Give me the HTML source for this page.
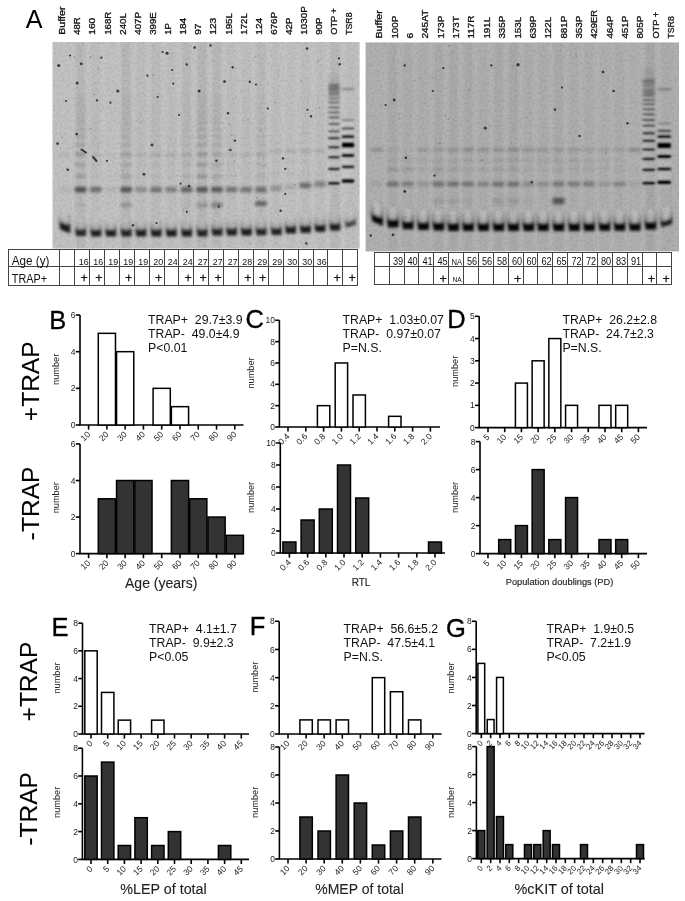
<!DOCTYPE html>
<html><head><meta charset="utf-8"><title>Figure</title>
<style>html,body{margin:0;padding:0;background:#fff;}body{width:685px;height:901px;overflow:hidden;}svg{display:block;filter:grayscale(100%);}</style>
</head><body>
<svg width="685" height="901" viewBox="0 0 685 901" font-family="'Liberation Sans',sans-serif">
<defs>
<filter id="bl1" x="-5%" y="-5%" width="110%" height="110%"><feGaussianBlur stdDeviation="1.35"/></filter>
<linearGradient id="gU" x1="0" y1="0" x2="0" y2="1"><stop offset="0" stop-color="#000" stop-opacity="0"/><stop offset="0.5" stop-color="#000" stop-opacity="0.2"/><stop offset="1" stop-color="#000" stop-opacity="0.6"/></linearGradient>
<filter id="bl0" x="-5%" y="-5%" width="110%" height="110%"><feGaussianBlur stdDeviation="0.85"/></filter>
<filter id="noise" x="0" y="0" width="100%" height="100%" color-interpolation-filters="sRGB"><feTurbulence type="fractalNoise" baseFrequency="0.4" numOctaves="2" seed="5" result="t"/><feColorMatrix in="t" type="matrix" values="0 0 0 0 0  0 0 0 0 0  0 0 0 0 0  1.2 0 0 0 -0.5" result="c"/><feGaussianBlur in="c" stdDeviation="0.6"/></filter>
<filter id="bls" x="0" y="0" width="100%" height="100%"><feGaussianBlur stdDeviation="0.45"/></filter>
<filter id="bl2" x="-5%" y="-5%" width="110%" height="110%"><feGaussianBlur stdDeviation="1.5"/></filter>
<clipPath id="clip52"><rect x="52.5" y="42" width="307.1" height="206.6"/></clipPath>
<clipPath id="clip365"><rect x="365.6" y="42.4" width="313.4" height="209"/></clipPath>
</defs>
<text x="25.70" y="27.70" font-size="25.2" fill="#000" text-anchor="start" >A</text>
<rect x="52.5" y="42" width="307.10" height="206.60" fill="#c2c2c2"/>
<g clip-path="url(#clip52)">
<g filter="url(#bl2)">
<rect x="75.10" y="42" width="11" height="206.60" fill="#000" opacity="0.050"/>
<rect x="90.30" y="42" width="11" height="206.60" fill="#000" opacity="0.020"/>
<rect x="120.60" y="42" width="11" height="206.60" fill="#000" opacity="0.050"/>
<rect x="135.40" y="42" width="11" height="206.60" fill="#000" opacity="0.020"/>
<rect x="150.60" y="42" width="11" height="206.60" fill="#000" opacity="0.030"/>
<rect x="165.70" y="42" width="11" height="206.60" fill="#000" opacity="0.020"/>
<rect x="181.10" y="42" width="11" height="206.60" fill="#000" opacity="0.040"/>
<rect x="196.60" y="42" width="11" height="206.60" fill="#000" opacity="0.060"/>
<rect x="211.50" y="42" width="11" height="206.60" fill="#000" opacity="0.050"/>
<rect x="226.00" y="42" width="11" height="206.60" fill="#000" opacity="0.020"/>
<rect x="240.70" y="42" width="11" height="206.60" fill="#000" opacity="0.020"/>
<rect x="255.50" y="42" width="11" height="206.60" fill="#000" opacity="0.040"/>
<rect x="270.70" y="42" width="11" height="206.60" fill="#000" opacity="0.020"/>
<rect x="285.00" y="42" width="11" height="206.60" fill="#000" opacity="0.010"/>
<rect x="299.80" y="42" width="11" height="206.60" fill="#000" opacity="0.020"/>
<rect x="314.50" y="42" width="11" height="206.60" fill="#000" opacity="0.020"/>
<rect x="329.30" y="42" width="11" height="206.60" fill="#000" opacity="0.050"/>
<rect x="344.90" y="42" width="11" height="206.60" fill="#000" opacity="0.020"/>
<rect x="71.70" y="42" width="2" height="206.60" fill="#fff" opacity="0.09"/>
<rect x="87.20" y="42" width="2" height="206.60" fill="#fff" opacity="0.09"/>
<rect x="102.25" y="42" width="2" height="206.60" fill="#fff" opacity="0.09"/>
<rect x="117.40" y="42" width="2" height="206.60" fill="#fff" opacity="0.09"/>
<rect x="132.50" y="42" width="2" height="206.60" fill="#fff" opacity="0.09"/>
<rect x="147.50" y="42" width="2" height="206.60" fill="#fff" opacity="0.09"/>
<rect x="162.65" y="42" width="2" height="206.60" fill="#fff" opacity="0.09"/>
<rect x="177.90" y="42" width="2" height="206.60" fill="#fff" opacity="0.09"/>
<rect x="193.35" y="42" width="2" height="206.60" fill="#fff" opacity="0.09"/>
<rect x="208.55" y="42" width="2" height="206.60" fill="#fff" opacity="0.09"/>
<rect x="223.25" y="42" width="2" height="206.60" fill="#fff" opacity="0.09"/>
<rect x="237.85" y="42" width="2" height="206.60" fill="#fff" opacity="0.09"/>
<rect x="252.60" y="42" width="2" height="206.60" fill="#fff" opacity="0.09"/>
<rect x="267.60" y="42" width="2" height="206.60" fill="#fff" opacity="0.09"/>
<rect x="282.35" y="42" width="2" height="206.60" fill="#fff" opacity="0.09"/>
<rect x="296.90" y="42" width="2" height="206.60" fill="#fff" opacity="0.09"/>
<rect x="311.65" y="42" width="2" height="206.60" fill="#fff" opacity="0.09"/>
<rect x="326.40" y="42" width="2" height="206.60" fill="#fff" opacity="0.09"/>
<rect x="341.60" y="42" width="2" height="206.60" fill="#fff" opacity="0.09"/>
</g>
<g filter="url(#bl1)">
<path d="M59.20,208.50 L70.40,212.50 L70.40,226.50 L59.20,222.50Z" fill="url(#gU)" opacity="0.360"/>
<rect x="59.20" y="208.50" width="2.4" height="14.00" fill="url(#gU)" opacity="0.480"/>
<rect x="68.00" y="212.50" width="2.4" height="14.00" fill="url(#gU)" opacity="0.480"/>
<path d="M62.00,210.80 L67.60,213.20 L67.60,224.70 L62.00,222.30Z" fill="#fff" opacity="0.14"/>
<path d="M59.20,221.50 L70.40,225.50 L70.40,233.50 L60.20,229.50Z" fill="#000" opacity="0.800"/>
<path d="M60.20,225.50 L69.40,229.50 L69.40,233.00 L60.70,229.00Z" fill="#000" opacity="0.480"/>
<path d="M75.00,216.20 L86.20,216.20 L86.20,230.20 L75.00,230.20Z" fill="url(#gU)" opacity="0.324"/>
<rect x="75.00" y="216.20" width="2.4" height="14.00" fill="url(#gU)" opacity="0.432"/>
<rect x="83.80" y="216.20" width="2.4" height="14.00" fill="url(#gU)" opacity="0.432"/>
<path d="M77.80,217.70 L83.40,217.70 L83.40,229.20 L77.80,229.20Z" fill="#fff" opacity="0.14"/>
<path d="M75.00,229.20 L86.20,229.20 L86.20,236.00 L76.00,236.00Z" fill="#000" opacity="0.720"/>
<path d="M76.00,232.60 L85.20,232.60 L85.20,235.50 L76.50,235.50Z" fill="#000" opacity="0.432"/>
<path d="M90.20,216.80 L101.40,216.80 L101.40,230.80 L90.20,230.80Z" fill="url(#gU)" opacity="0.351"/>
<rect x="90.20" y="216.80" width="2.4" height="14.00" fill="url(#gU)" opacity="0.468"/>
<rect x="99.00" y="216.80" width="2.4" height="14.00" fill="url(#gU)" opacity="0.468"/>
<path d="M93.00,218.30 L98.60,218.30 L98.60,229.80 L93.00,229.80Z" fill="#fff" opacity="0.14"/>
<path d="M90.20,229.80 L101.40,229.80 L101.40,236.60 L91.20,236.60Z" fill="#000" opacity="0.780"/>
<path d="M91.20,233.20 L100.40,233.20 L100.40,236.10 L91.70,236.10Z" fill="#000" opacity="0.468"/>
<path d="M105.10,216.80 L116.30,216.80 L116.30,230.80 L105.10,230.80Z" fill="url(#gU)" opacity="0.360"/>
<rect x="105.10" y="216.80" width="2.4" height="14.00" fill="url(#gU)" opacity="0.480"/>
<rect x="113.90" y="216.80" width="2.4" height="14.00" fill="url(#gU)" opacity="0.480"/>
<path d="M107.90,218.30 L113.50,218.30 L113.50,229.80 L107.90,229.80Z" fill="#fff" opacity="0.14"/>
<path d="M105.10,229.80 L116.30,229.80 L116.30,236.60 L106.10,236.60Z" fill="#000" opacity="0.800"/>
<path d="M106.10,233.20 L115.30,233.20 L115.30,236.10 L106.60,236.10Z" fill="#000" opacity="0.480"/>
<path d="M120.50,216.60 L131.70,216.60 L131.70,230.60 L120.50,230.60Z" fill="url(#gU)" opacity="0.333"/>
<rect x="120.50" y="216.60" width="2.4" height="14.00" fill="url(#gU)" opacity="0.444"/>
<rect x="129.30" y="216.60" width="2.4" height="14.00" fill="url(#gU)" opacity="0.444"/>
<path d="M123.30,218.10 L128.90,218.10 L128.90,229.60 L123.30,229.60Z" fill="#fff" opacity="0.14"/>
<path d="M120.50,229.60 L131.70,229.60 L131.70,236.40 L121.50,236.40Z" fill="#000" opacity="0.740"/>
<path d="M121.50,233.00 L130.70,233.00 L130.70,235.90 L122.00,235.90Z" fill="#000" opacity="0.444"/>
<path d="M135.30,216.60 L146.50,216.60 L146.50,230.60 L135.30,230.60Z" fill="url(#gU)" opacity="0.351"/>
<rect x="135.30" y="216.60" width="2.4" height="14.00" fill="url(#gU)" opacity="0.468"/>
<rect x="144.10" y="216.60" width="2.4" height="14.00" fill="url(#gU)" opacity="0.468"/>
<path d="M138.10,218.10 L143.70,218.10 L143.70,229.60 L138.10,229.60Z" fill="#fff" opacity="0.14"/>
<path d="M135.30,229.60 L146.50,229.60 L146.50,236.40 L136.30,236.40Z" fill="#000" opacity="0.780"/>
<path d="M136.30,233.00 L145.50,233.00 L145.50,235.90 L136.80,235.90Z" fill="#000" opacity="0.468"/>
<path d="M150.50,216.60 L161.70,216.60 L161.70,230.60 L150.50,230.60Z" fill="url(#gU)" opacity="0.351"/>
<rect x="150.50" y="216.60" width="2.4" height="14.00" fill="url(#gU)" opacity="0.468"/>
<rect x="159.30" y="216.60" width="2.4" height="14.00" fill="url(#gU)" opacity="0.468"/>
<path d="M153.30,218.10 L158.90,218.10 L158.90,229.60 L153.30,229.60Z" fill="#fff" opacity="0.14"/>
<path d="M150.50,229.60 L161.70,229.60 L161.70,236.40 L151.50,236.40Z" fill="#000" opacity="0.780"/>
<path d="M151.50,233.00 L160.70,233.00 L160.70,235.90 L152.00,235.90Z" fill="#000" opacity="0.468"/>
<path d="M165.60,216.60 L176.80,216.60 L176.80,230.60 L165.60,230.60Z" fill="url(#gU)" opacity="0.360"/>
<rect x="165.60" y="216.60" width="2.4" height="14.00" fill="url(#gU)" opacity="0.480"/>
<rect x="174.40" y="216.60" width="2.4" height="14.00" fill="url(#gU)" opacity="0.480"/>
<path d="M168.40,218.10 L174.00,218.10 L174.00,229.60 L168.40,229.60Z" fill="#fff" opacity="0.14"/>
<path d="M165.60,229.60 L176.80,229.60 L176.80,236.40 L166.60,236.40Z" fill="#000" opacity="0.800"/>
<path d="M166.60,233.00 L175.80,233.00 L175.80,235.90 L167.10,235.90Z" fill="#000" opacity="0.480"/>
<path d="M181.00,216.60 L192.20,216.60 L192.20,230.60 L181.00,230.60Z" fill="url(#gU)" opacity="0.351"/>
<rect x="181.00" y="216.60" width="2.4" height="14.00" fill="url(#gU)" opacity="0.468"/>
<rect x="189.80" y="216.60" width="2.4" height="14.00" fill="url(#gU)" opacity="0.468"/>
<path d="M183.80,218.10 L189.40,218.10 L189.40,229.60 L183.80,229.60Z" fill="#fff" opacity="0.14"/>
<path d="M181.00,229.60 L192.20,229.60 L192.20,236.40 L182.00,236.40Z" fill="#000" opacity="0.780"/>
<path d="M182.00,233.00 L191.20,233.00 L191.20,235.90 L182.50,235.90Z" fill="#000" opacity="0.468"/>
<path d="M196.50,216.60 L207.70,216.60 L207.70,230.60 L196.50,230.60Z" fill="url(#gU)" opacity="0.333"/>
<rect x="196.50" y="216.60" width="2.4" height="14.00" fill="url(#gU)" opacity="0.444"/>
<rect x="205.30" y="216.60" width="2.4" height="14.00" fill="url(#gU)" opacity="0.444"/>
<path d="M199.30,218.10 L204.90,218.10 L204.90,229.60 L199.30,229.60Z" fill="#fff" opacity="0.14"/>
<path d="M196.50,229.60 L207.70,229.60 L207.70,236.40 L197.50,236.40Z" fill="#000" opacity="0.740"/>
<path d="M197.50,233.00 L206.70,233.00 L206.70,235.90 L198.00,235.90Z" fill="#000" opacity="0.444"/>
<path d="M211.40,215.60 L222.60,215.60 L222.60,229.60 L211.40,229.60Z" fill="url(#gU)" opacity="0.333"/>
<rect x="211.40" y="215.60" width="2.4" height="14.00" fill="url(#gU)" opacity="0.444"/>
<rect x="220.20" y="215.60" width="2.4" height="14.00" fill="url(#gU)" opacity="0.444"/>
<path d="M214.20,217.10 L219.80,217.10 L219.80,228.60 L214.20,228.60Z" fill="#fff" opacity="0.14"/>
<path d="M211.40,228.60 L222.60,228.60 L222.60,235.40 L212.40,235.40Z" fill="#000" opacity="0.740"/>
<path d="M212.40,232.00 L221.60,232.00 L221.60,234.90 L212.90,234.90Z" fill="#000" opacity="0.444"/>
<path d="M225.90,215.60 L237.10,215.60 L237.10,229.60 L225.90,229.60Z" fill="url(#gU)" opacity="0.351"/>
<rect x="225.90" y="215.60" width="2.4" height="14.00" fill="url(#gU)" opacity="0.468"/>
<rect x="234.70" y="215.60" width="2.4" height="14.00" fill="url(#gU)" opacity="0.468"/>
<path d="M228.70,217.10 L234.30,217.10 L234.30,228.60 L228.70,228.60Z" fill="#fff" opacity="0.14"/>
<path d="M225.90,228.60 L237.10,228.60 L237.10,235.40 L226.90,235.40Z" fill="#000" opacity="0.780"/>
<path d="M226.90,232.00 L236.10,232.00 L236.10,234.90 L227.40,234.90Z" fill="#000" opacity="0.468"/>
<path d="M240.60,215.60 L251.80,215.60 L251.80,229.60 L240.60,229.60Z" fill="url(#gU)" opacity="0.360"/>
<rect x="240.60" y="215.60" width="2.4" height="14.00" fill="url(#gU)" opacity="0.480"/>
<rect x="249.40" y="215.60" width="2.4" height="14.00" fill="url(#gU)" opacity="0.480"/>
<path d="M243.40,217.10 L249.00,217.10 L249.00,228.60 L243.40,228.60Z" fill="#fff" opacity="0.14"/>
<path d="M240.60,228.60 L251.80,228.60 L251.80,235.40 L241.60,235.40Z" fill="#000" opacity="0.800"/>
<path d="M241.60,232.00 L250.80,232.00 L250.80,234.90 L242.10,234.90Z" fill="#000" opacity="0.480"/>
<path d="M255.40,215.40 L266.60,215.40 L266.60,229.40 L255.40,229.40Z" fill="url(#gU)" opacity="0.333"/>
<rect x="255.40" y="215.40" width="2.4" height="14.00" fill="url(#gU)" opacity="0.444"/>
<rect x="264.20" y="215.40" width="2.4" height="14.00" fill="url(#gU)" opacity="0.444"/>
<path d="M258.20,216.90 L263.80,216.90 L263.80,228.40 L258.20,228.40Z" fill="#fff" opacity="0.14"/>
<path d="M255.40,228.40 L266.60,228.40 L266.60,235.20 L256.40,235.20Z" fill="#000" opacity="0.740"/>
<path d="M256.40,231.80 L265.60,231.80 L265.60,234.70 L256.90,234.70Z" fill="#000" opacity="0.444"/>
<path d="M270.60,215.10 L281.80,215.10 L281.80,229.10 L270.60,229.10Z" fill="url(#gU)" opacity="0.338"/>
<rect x="270.60" y="215.10" width="2.4" height="14.00" fill="url(#gU)" opacity="0.450"/>
<rect x="279.40" y="215.10" width="2.4" height="14.00" fill="url(#gU)" opacity="0.450"/>
<path d="M273.40,216.60 L279.00,216.60 L279.00,228.10 L273.40,228.10Z" fill="#fff" opacity="0.14"/>
<path d="M270.60,228.10 L281.80,228.10 L281.80,234.90 L271.60,234.90Z" fill="#000" opacity="0.750"/>
<path d="M271.60,231.50 L280.80,231.50 L280.80,234.40 L272.10,234.40Z" fill="#000" opacity="0.450"/>
<path d="M284.90,213.60 L296.10,213.60 L296.10,227.60 L284.90,227.60Z" fill="url(#gU)" opacity="0.360"/>
<rect x="284.90" y="213.60" width="2.4" height="14.00" fill="url(#gU)" opacity="0.480"/>
<rect x="293.70" y="213.60" width="2.4" height="14.00" fill="url(#gU)" opacity="0.480"/>
<path d="M287.70,215.10 L293.30,215.10 L293.30,226.60 L287.70,226.60Z" fill="#fff" opacity="0.14"/>
<path d="M284.90,226.60 L296.10,226.60 L296.10,233.40 L285.90,233.40Z" fill="#000" opacity="0.800"/>
<path d="M285.90,230.00 L295.10,230.00 L295.10,232.90 L286.40,232.90Z" fill="#000" opacity="0.480"/>
<path d="M299.70,213.00 L310.90,213.00 L310.90,227.00 L299.70,227.00Z" fill="url(#gU)" opacity="0.369"/>
<rect x="299.70" y="213.00" width="2.4" height="14.00" fill="url(#gU)" opacity="0.492"/>
<rect x="308.50" y="213.00" width="2.4" height="14.00" fill="url(#gU)" opacity="0.492"/>
<path d="M302.50,214.50 L308.10,214.50 L308.10,226.00 L302.50,226.00Z" fill="#fff" opacity="0.14"/>
<path d="M299.70,226.00 L310.90,226.00 L310.90,232.80 L300.70,232.80Z" fill="#000" opacity="0.820"/>
<path d="M300.70,229.40 L309.90,229.40 L309.90,232.30 L301.20,232.30Z" fill="#000" opacity="0.492"/>
<path d="M314.40,211.90 L325.60,211.90 L325.60,225.90 L314.40,225.90Z" fill="url(#gU)" opacity="0.369"/>
<rect x="314.40" y="211.90" width="2.4" height="14.00" fill="url(#gU)" opacity="0.492"/>
<rect x="323.20" y="211.90" width="2.4" height="14.00" fill="url(#gU)" opacity="0.492"/>
<path d="M317.20,213.40 L322.80,213.40 L322.80,224.90 L317.20,224.90Z" fill="#fff" opacity="0.14"/>
<path d="M314.40,224.90 L325.60,224.90 L325.60,231.70 L315.40,231.70Z" fill="#000" opacity="0.820"/>
<path d="M315.40,228.30 L324.60,228.30 L324.60,231.20 L315.90,231.20Z" fill="#000" opacity="0.492"/>
<path d="M329.20,210.80 L340.40,210.80 L340.40,224.80 L329.20,224.80Z" fill="url(#gU)" opacity="0.360"/>
<rect x="329.20" y="210.80" width="2.4" height="14.00" fill="url(#gU)" opacity="0.480"/>
<rect x="338.00" y="210.80" width="2.4" height="14.00" fill="url(#gU)" opacity="0.480"/>
<path d="M332.00,212.30 L337.60,212.30 L337.60,223.80 L332.00,223.80Z" fill="#fff" opacity="0.14"/>
<path d="M329.20,223.80 L340.40,223.80 L340.40,230.60 L330.20,230.60Z" fill="#000" opacity="0.800"/>
<path d="M330.20,227.20 L339.40,227.20 L339.40,230.10 L330.70,230.10Z" fill="#000" opacity="0.480"/>
<path d="M344.80,209.45 L356.00,206.25 L356.00,220.25 L344.80,223.45Z" fill="url(#gU)" opacity="0.248"/>
<rect x="344.80" y="209.45" width="2.4" height="14.00" fill="url(#gU)" opacity="0.330"/>
<rect x="353.60" y="206.25" width="2.4" height="14.00" fill="url(#gU)" opacity="0.330"/>
<path d="M347.60,210.31 L353.20,208.39 L353.20,219.89 L347.60,221.81Z" fill="#fff" opacity="0.14"/>
<path d="M344.80,222.45 L356.00,219.25 L356.00,224.75 L345.80,227.95Z" fill="#000" opacity="0.550"/>
<path d="M345.80,225.20 L355.00,222.00 L355.00,224.25 L346.30,227.45Z" fill="#000" opacity="0.330"/>
<rect x="59.05" y="186.85" width="11.50" height="5.50" fill="#000" opacity="0.062"/>
<rect x="59.05" y="153.50" width="11.50" height="3.00" fill="#000" opacity="0.084"/>
<rect x="74.85" y="186.85" width="11.50" height="5.50" fill="#000" opacity="0.562"/>
<rect x="74.85" y="202.50" width="11.50" height="5.00" fill="#000" opacity="0.050"/>
<rect x="74.85" y="153.50" width="11.50" height="3.00" fill="#000" opacity="0.070"/>
<rect x="75.10" y="174.80" width="11.00" height="3.00" fill="#000" opacity="0.196"/>
<rect x="75.10" y="163.20" width="11.00" height="3.00" fill="#000" opacity="0.170"/>
<rect x="75.10" y="152.60" width="11.00" height="3.00" fill="#000" opacity="0.148"/>
<rect x="75.10" y="143.30" width="11.00" height="3.00" fill="#000" opacity="0.129"/>
<rect x="75.10" y="135.10" width="11.00" height="3.00" fill="#000" opacity="0.112"/>
<rect x="75.10" y="128.10" width="11.00" height="3.00" fill="#000" opacity="0.098"/>
<rect x="75.10" y="121.80" width="11.00" height="3.00" fill="#000" opacity="0.085"/>
<rect x="75.10" y="116.40" width="11.00" height="3.00" fill="#000" opacity="0.074"/>
<rect x="75.10" y="111.10" width="11.00" height="3.00" fill="#000" opacity="0.064"/>
<rect x="75.10" y="105.90" width="11.00" height="3.00" fill="#000" opacity="0.056"/>
<rect x="75.10" y="101.70" width="11.00" height="3.00" fill="#000" opacity="0.049"/>
<rect x="75.10" y="97.70" width="11.00" height="3.00" fill="#000" opacity="0.042"/>
<rect x="75.10" y="94.20" width="11.00" height="3.00" fill="#000" opacity="0.037"/>
<rect x="90.05" y="186.85" width="11.50" height="5.50" fill="#000" opacity="0.400"/>
<rect x="90.05" y="153.50" width="11.50" height="3.00" fill="#000" opacity="0.042"/>
<rect x="90.30" y="174.80" width="11.00" height="3.00" fill="#000" opacity="0.052"/>
<rect x="90.30" y="163.20" width="11.00" height="3.00" fill="#000" opacity="0.045"/>
<rect x="90.30" y="152.60" width="11.00" height="3.00" fill="#000" opacity="0.040"/>
<rect x="90.30" y="143.30" width="11.00" height="3.00" fill="#000" opacity="0.034"/>
<rect x="90.30" y="135.10" width="11.00" height="3.00" fill="#000" opacity="0.030"/>
<rect x="90.30" y="128.10" width="11.00" height="3.00" fill="#000" opacity="0.026"/>
<rect x="90.30" y="121.80" width="11.00" height="3.00" fill="#000" opacity="0.023"/>
<rect x="90.30" y="116.40" width="11.00" height="3.00" fill="#000" opacity="0.020"/>
<rect x="90.30" y="111.10" width="11.00" height="3.00" fill="#000" opacity="0.017"/>
<rect x="90.30" y="105.90" width="11.00" height="3.00" fill="#000" opacity="0.015"/>
<rect x="90.30" y="101.70" width="11.00" height="3.00" fill="#000" opacity="0.013"/>
<rect x="90.30" y="97.70" width="11.00" height="3.00" fill="#000" opacity="0.011"/>
<rect x="90.30" y="94.20" width="11.00" height="3.00" fill="#000" opacity="0.010"/>
<rect x="104.95" y="186.85" width="11.50" height="5.50" fill="#000" opacity="0.075"/>
<rect x="104.95" y="153.50" width="11.50" height="3.00" fill="#000" opacity="0.035"/>
<rect x="105.20" y="174.80" width="11.00" height="3.00" fill="#000" opacity="0.013"/>
<rect x="105.20" y="163.20" width="11.00" height="3.00" fill="#000" opacity="0.011"/>
<rect x="105.20" y="152.60" width="11.00" height="3.00" fill="#000" opacity="0.010"/>
<rect x="105.20" y="143.30" width="11.00" height="3.00" fill="#000" opacity="0.009"/>
<rect x="105.20" y="135.10" width="11.00" height="3.00" fill="#000" opacity="0.007"/>
<rect x="105.20" y="128.10" width="11.00" height="3.00" fill="#000" opacity="0.007"/>
<rect x="105.20" y="121.80" width="11.00" height="3.00" fill="#000" opacity="0.006"/>
<rect x="105.20" y="116.40" width="11.00" height="3.00" fill="#000" opacity="0.005"/>
<rect x="105.20" y="111.10" width="11.00" height="3.00" fill="#000" opacity="0.004"/>
<rect x="105.20" y="105.90" width="11.00" height="3.00" fill="#000" opacity="0.004"/>
<rect x="105.20" y="101.70" width="11.00" height="3.00" fill="#000" opacity="0.003"/>
<rect x="105.20" y="97.70" width="11.00" height="3.00" fill="#000" opacity="0.003"/>
<rect x="105.20" y="94.20" width="11.00" height="3.00" fill="#000" opacity="0.002"/>
<rect x="120.35" y="186.85" width="11.50" height="5.50" fill="#000" opacity="0.525"/>
<rect x="120.35" y="202.50" width="11.50" height="5.00" fill="#000" opacity="0.180"/>
<rect x="120.35" y="153.50" width="11.50" height="3.00" fill="#000" opacity="0.098"/>
<rect x="120.60" y="174.80" width="11.00" height="3.00" fill="#000" opacity="0.157"/>
<rect x="120.60" y="163.20" width="11.00" height="3.00" fill="#000" opacity="0.136"/>
<rect x="120.60" y="152.60" width="11.00" height="3.00" fill="#000" opacity="0.119"/>
<rect x="120.60" y="143.30" width="11.00" height="3.00" fill="#000" opacity="0.103"/>
<rect x="120.60" y="135.10" width="11.00" height="3.00" fill="#000" opacity="0.090"/>
<rect x="120.60" y="128.10" width="11.00" height="3.00" fill="#000" opacity="0.078"/>
<rect x="120.60" y="121.80" width="11.00" height="3.00" fill="#000" opacity="0.068"/>
<rect x="120.60" y="116.40" width="11.00" height="3.00" fill="#000" opacity="0.059"/>
<rect x="120.60" y="111.10" width="11.00" height="3.00" fill="#000" opacity="0.051"/>
<rect x="120.60" y="105.90" width="11.00" height="3.00" fill="#000" opacity="0.045"/>
<rect x="120.60" y="101.70" width="11.00" height="3.00" fill="#000" opacity="0.039"/>
<rect x="120.60" y="97.70" width="11.00" height="3.00" fill="#000" opacity="0.034"/>
<rect x="120.60" y="94.20" width="11.00" height="3.00" fill="#000" opacity="0.029"/>
<rect x="135.15" y="186.85" width="11.50" height="5.50" fill="#000" opacity="0.250"/>
<rect x="135.15" y="153.50" width="11.50" height="3.00" fill="#000" opacity="0.084"/>
<rect x="135.40" y="174.80" width="11.00" height="3.00" fill="#000" opacity="0.033"/>
<rect x="135.40" y="163.20" width="11.00" height="3.00" fill="#000" opacity="0.028"/>
<rect x="135.40" y="152.60" width="11.00" height="3.00" fill="#000" opacity="0.025"/>
<rect x="135.40" y="143.30" width="11.00" height="3.00" fill="#000" opacity="0.021"/>
<rect x="135.40" y="135.10" width="11.00" height="3.00" fill="#000" opacity="0.019"/>
<rect x="135.40" y="128.10" width="11.00" height="3.00" fill="#000" opacity="0.016"/>
<rect x="135.40" y="121.80" width="11.00" height="3.00" fill="#000" opacity="0.014"/>
<rect x="135.40" y="116.40" width="11.00" height="3.00" fill="#000" opacity="0.012"/>
<rect x="135.40" y="111.10" width="11.00" height="3.00" fill="#000" opacity="0.011"/>
<rect x="135.40" y="105.90" width="11.00" height="3.00" fill="#000" opacity="0.009"/>
<rect x="135.40" y="101.70" width="11.00" height="3.00" fill="#000" opacity="0.008"/>
<rect x="135.40" y="97.70" width="11.00" height="3.00" fill="#000" opacity="0.007"/>
<rect x="135.40" y="94.20" width="11.00" height="3.00" fill="#000" opacity="0.006"/>
<rect x="150.35" y="186.85" width="11.50" height="5.50" fill="#000" opacity="0.375"/>
<rect x="150.35" y="153.50" width="11.50" height="3.00" fill="#000" opacity="0.105"/>
<rect x="150.60" y="174.80" width="11.00" height="3.00" fill="#000" opacity="0.052"/>
<rect x="150.60" y="163.20" width="11.00" height="3.00" fill="#000" opacity="0.045"/>
<rect x="150.60" y="152.60" width="11.00" height="3.00" fill="#000" opacity="0.040"/>
<rect x="150.60" y="143.30" width="11.00" height="3.00" fill="#000" opacity="0.034"/>
<rect x="150.60" y="135.10" width="11.00" height="3.00" fill="#000" opacity="0.030"/>
<rect x="150.60" y="128.10" width="11.00" height="3.00" fill="#000" opacity="0.026"/>
<rect x="150.60" y="121.80" width="11.00" height="3.00" fill="#000" opacity="0.023"/>
<rect x="150.60" y="116.40" width="11.00" height="3.00" fill="#000" opacity="0.020"/>
<rect x="150.60" y="111.10" width="11.00" height="3.00" fill="#000" opacity="0.017"/>
<rect x="150.60" y="105.90" width="11.00" height="3.00" fill="#000" opacity="0.015"/>
<rect x="150.60" y="101.70" width="11.00" height="3.00" fill="#000" opacity="0.013"/>
<rect x="150.60" y="97.70" width="11.00" height="3.00" fill="#000" opacity="0.011"/>
<rect x="150.60" y="94.20" width="11.00" height="3.00" fill="#000" opacity="0.010"/>
<rect x="165.45" y="186.85" width="11.50" height="5.50" fill="#000" opacity="0.312"/>
<rect x="165.45" y="153.50" width="11.50" height="3.00" fill="#000" opacity="0.098"/>
<rect x="165.70" y="174.80" width="11.00" height="3.00" fill="#000" opacity="0.039"/>
<rect x="165.70" y="163.20" width="11.00" height="3.00" fill="#000" opacity="0.034"/>
<rect x="165.70" y="152.60" width="11.00" height="3.00" fill="#000" opacity="0.030"/>
<rect x="165.70" y="143.30" width="11.00" height="3.00" fill="#000" opacity="0.026"/>
<rect x="165.70" y="135.10" width="11.00" height="3.00" fill="#000" opacity="0.022"/>
<rect x="165.70" y="128.10" width="11.00" height="3.00" fill="#000" opacity="0.020"/>
<rect x="165.70" y="121.80" width="11.00" height="3.00" fill="#000" opacity="0.017"/>
<rect x="165.70" y="116.40" width="11.00" height="3.00" fill="#000" opacity="0.015"/>
<rect x="165.70" y="111.10" width="11.00" height="3.00" fill="#000" opacity="0.013"/>
<rect x="165.70" y="105.90" width="11.00" height="3.00" fill="#000" opacity="0.011"/>
<rect x="165.70" y="101.70" width="11.00" height="3.00" fill="#000" opacity="0.010"/>
<rect x="165.70" y="97.70" width="11.00" height="3.00" fill="#000" opacity="0.008"/>
<rect x="165.70" y="94.20" width="11.00" height="3.00" fill="#000" opacity="0.007"/>
<rect x="180.85" y="186.85" width="11.50" height="5.50" fill="#000" opacity="0.450"/>
<rect x="180.85" y="202.50" width="11.50" height="5.00" fill="#000" opacity="0.030"/>
<rect x="180.85" y="153.50" width="11.50" height="3.00" fill="#000" opacity="0.070"/>
<rect x="181.10" y="174.80" width="11.00" height="3.00" fill="#000" opacity="0.091"/>
<rect x="181.10" y="163.20" width="11.00" height="3.00" fill="#000" opacity="0.079"/>
<rect x="181.10" y="152.60" width="11.00" height="3.00" fill="#000" opacity="0.069"/>
<rect x="181.10" y="143.30" width="11.00" height="3.00" fill="#000" opacity="0.060"/>
<rect x="181.10" y="135.10" width="11.00" height="3.00" fill="#000" opacity="0.052"/>
<rect x="181.10" y="128.10" width="11.00" height="3.00" fill="#000" opacity="0.046"/>
<rect x="181.10" y="121.80" width="11.00" height="3.00" fill="#000" opacity="0.040"/>
<rect x="181.10" y="116.40" width="11.00" height="3.00" fill="#000" opacity="0.034"/>
<rect x="181.10" y="111.10" width="11.00" height="3.00" fill="#000" opacity="0.030"/>
<rect x="181.10" y="105.90" width="11.00" height="3.00" fill="#000" opacity="0.026"/>
<rect x="181.10" y="101.70" width="11.00" height="3.00" fill="#000" opacity="0.023"/>
<rect x="181.10" y="97.70" width="11.00" height="3.00" fill="#000" opacity="0.020"/>
<rect x="181.10" y="94.20" width="11.00" height="3.00" fill="#000" opacity="0.017"/>
<rect x="196.35" y="186.85" width="11.50" height="5.50" fill="#000" opacity="0.525"/>
<rect x="196.35" y="202.50" width="11.50" height="5.00" fill="#000" opacity="0.180"/>
<rect x="196.35" y="153.50" width="11.50" height="3.00" fill="#000" opacity="0.070"/>
<rect x="196.60" y="174.80" width="11.00" height="3.00" fill="#000" opacity="0.235"/>
<rect x="196.60" y="163.20" width="11.00" height="3.00" fill="#000" opacity="0.204"/>
<rect x="196.60" y="152.60" width="11.00" height="3.00" fill="#000" opacity="0.178"/>
<rect x="196.60" y="143.30" width="11.00" height="3.00" fill="#000" opacity="0.155"/>
<rect x="196.60" y="135.10" width="11.00" height="3.00" fill="#000" opacity="0.135"/>
<rect x="196.60" y="128.10" width="11.00" height="3.00" fill="#000" opacity="0.117"/>
<rect x="196.60" y="121.80" width="11.00" height="3.00" fill="#000" opacity="0.102"/>
<rect x="196.60" y="116.40" width="11.00" height="3.00" fill="#000" opacity="0.089"/>
<rect x="196.60" y="111.10" width="11.00" height="3.00" fill="#000" opacity="0.077"/>
<rect x="196.60" y="105.90" width="11.00" height="3.00" fill="#000" opacity="0.067"/>
<rect x="196.60" y="101.70" width="11.00" height="3.00" fill="#000" opacity="0.058"/>
<rect x="196.60" y="97.70" width="11.00" height="3.00" fill="#000" opacity="0.051"/>
<rect x="196.60" y="94.20" width="11.00" height="3.00" fill="#000" opacity="0.044"/>
<rect x="211.25" y="186.85" width="11.50" height="5.50" fill="#000" opacity="0.500"/>
<rect x="211.25" y="202.50" width="11.50" height="5.00" fill="#000" opacity="0.300"/>
<rect x="211.25" y="153.50" width="11.50" height="3.00" fill="#000" opacity="0.056"/>
<rect x="211.50" y="174.80" width="11.00" height="3.00" fill="#000" opacity="0.144"/>
<rect x="211.50" y="163.20" width="11.00" height="3.00" fill="#000" opacity="0.125"/>
<rect x="211.50" y="152.60" width="11.00" height="3.00" fill="#000" opacity="0.109"/>
<rect x="211.50" y="143.30" width="11.00" height="3.00" fill="#000" opacity="0.095"/>
<rect x="211.50" y="135.10" width="11.00" height="3.00" fill="#000" opacity="0.082"/>
<rect x="211.50" y="128.10" width="11.00" height="3.00" fill="#000" opacity="0.072"/>
<rect x="211.50" y="121.80" width="11.00" height="3.00" fill="#000" opacity="0.062"/>
<rect x="211.50" y="116.40" width="11.00" height="3.00" fill="#000" opacity="0.054"/>
<rect x="211.50" y="111.10" width="11.00" height="3.00" fill="#000" opacity="0.047"/>
<rect x="211.50" y="105.90" width="11.00" height="3.00" fill="#000" opacity="0.041"/>
<rect x="211.50" y="101.70" width="11.00" height="3.00" fill="#000" opacity="0.036"/>
<rect x="211.50" y="97.70" width="11.00" height="3.00" fill="#000" opacity="0.031"/>
<rect x="211.50" y="94.20" width="11.00" height="3.00" fill="#000" opacity="0.027"/>
<rect x="225.75" y="186.85" width="11.50" height="5.50" fill="#000" opacity="0.375"/>
<rect x="225.75" y="153.50" width="11.50" height="3.00" fill="#000" opacity="0.056"/>
<rect x="226.00" y="174.80" width="11.00" height="3.00" fill="#000" opacity="0.039"/>
<rect x="226.00" y="163.20" width="11.00" height="3.00" fill="#000" opacity="0.034"/>
<rect x="226.00" y="152.60" width="11.00" height="3.00" fill="#000" opacity="0.030"/>
<rect x="226.00" y="143.30" width="11.00" height="3.00" fill="#000" opacity="0.026"/>
<rect x="226.00" y="135.10" width="11.00" height="3.00" fill="#000" opacity="0.022"/>
<rect x="226.00" y="128.10" width="11.00" height="3.00" fill="#000" opacity="0.020"/>
<rect x="226.00" y="121.80" width="11.00" height="3.00" fill="#000" opacity="0.017"/>
<rect x="226.00" y="116.40" width="11.00" height="3.00" fill="#000" opacity="0.015"/>
<rect x="226.00" y="111.10" width="11.00" height="3.00" fill="#000" opacity="0.013"/>
<rect x="226.00" y="105.90" width="11.00" height="3.00" fill="#000" opacity="0.011"/>
<rect x="226.00" y="101.70" width="11.00" height="3.00" fill="#000" opacity="0.010"/>
<rect x="226.00" y="97.70" width="11.00" height="3.00" fill="#000" opacity="0.008"/>
<rect x="226.00" y="94.20" width="11.00" height="3.00" fill="#000" opacity="0.007"/>
<rect x="240.45" y="186.85" width="11.50" height="5.50" fill="#000" opacity="0.375"/>
<rect x="240.45" y="153.50" width="11.50" height="3.00" fill="#000" opacity="0.084"/>
<rect x="240.70" y="174.80" width="11.00" height="3.00" fill="#000" opacity="0.039"/>
<rect x="240.70" y="163.20" width="11.00" height="3.00" fill="#000" opacity="0.034"/>
<rect x="240.70" y="152.60" width="11.00" height="3.00" fill="#000" opacity="0.030"/>
<rect x="240.70" y="143.30" width="11.00" height="3.00" fill="#000" opacity="0.026"/>
<rect x="240.70" y="135.10" width="11.00" height="3.00" fill="#000" opacity="0.022"/>
<rect x="240.70" y="128.10" width="11.00" height="3.00" fill="#000" opacity="0.020"/>
<rect x="240.70" y="121.80" width="11.00" height="3.00" fill="#000" opacity="0.017"/>
<rect x="240.70" y="116.40" width="11.00" height="3.00" fill="#000" opacity="0.015"/>
<rect x="240.70" y="111.10" width="11.00" height="3.00" fill="#000" opacity="0.013"/>
<rect x="240.70" y="105.90" width="11.00" height="3.00" fill="#000" opacity="0.011"/>
<rect x="240.70" y="101.70" width="11.00" height="3.00" fill="#000" opacity="0.010"/>
<rect x="240.70" y="97.70" width="11.00" height="3.00" fill="#000" opacity="0.008"/>
<rect x="240.70" y="94.20" width="11.00" height="3.00" fill="#000" opacity="0.007"/>
<rect x="255.25" y="186.85" width="11.50" height="5.50" fill="#000" opacity="0.400"/>
<rect x="255.25" y="201.00" width="11.50" height="5.00" fill="#000" opacity="0.450"/>
<rect x="255.25" y="153.50" width="11.50" height="3.00" fill="#000" opacity="0.084"/>
<rect x="255.50" y="174.80" width="11.00" height="3.00" fill="#000" opacity="0.091"/>
<rect x="255.50" y="163.20" width="11.00" height="3.00" fill="#000" opacity="0.079"/>
<rect x="255.50" y="152.60" width="11.00" height="3.00" fill="#000" opacity="0.069"/>
<rect x="255.50" y="143.30" width="11.00" height="3.00" fill="#000" opacity="0.060"/>
<rect x="255.50" y="135.10" width="11.00" height="3.00" fill="#000" opacity="0.052"/>
<rect x="255.50" y="128.10" width="11.00" height="3.00" fill="#000" opacity="0.046"/>
<rect x="255.50" y="121.80" width="11.00" height="3.00" fill="#000" opacity="0.040"/>
<rect x="255.50" y="116.40" width="11.00" height="3.00" fill="#000" opacity="0.034"/>
<rect x="255.50" y="111.10" width="11.00" height="3.00" fill="#000" opacity="0.030"/>
<rect x="255.50" y="105.90" width="11.00" height="3.00" fill="#000" opacity="0.026"/>
<rect x="255.50" y="101.70" width="11.00" height="3.00" fill="#000" opacity="0.023"/>
<rect x="255.50" y="97.70" width="11.00" height="3.00" fill="#000" opacity="0.020"/>
<rect x="255.50" y="94.20" width="11.00" height="3.00" fill="#000" opacity="0.017"/>
<rect x="270.45" y="185.45" width="11.50" height="5.50" fill="#000" opacity="0.225"/>
<rect x="270.45" y="149.50" width="11.50" height="3.00" fill="#000" opacity="0.098"/>
<rect x="270.70" y="171.80" width="11.00" height="3.00" fill="#000" opacity="0.026"/>
<rect x="270.70" y="160.20" width="11.00" height="3.00" fill="#000" opacity="0.023"/>
<rect x="270.70" y="149.60" width="11.00" height="3.00" fill="#000" opacity="0.020"/>
<rect x="270.70" y="140.30" width="11.00" height="3.00" fill="#000" opacity="0.017"/>
<rect x="270.70" y="132.10" width="11.00" height="3.00" fill="#000" opacity="0.015"/>
<rect x="270.70" y="125.10" width="11.00" height="3.00" fill="#000" opacity="0.013"/>
<rect x="270.70" y="118.80" width="11.00" height="3.00" fill="#000" opacity="0.011"/>
<rect x="270.70" y="113.40" width="11.00" height="3.00" fill="#000" opacity="0.010"/>
<rect x="270.70" y="108.10" width="11.00" height="3.00" fill="#000" opacity="0.009"/>
<rect x="270.70" y="102.90" width="11.00" height="3.00" fill="#000" opacity="0.007"/>
<rect x="270.70" y="98.70" width="11.00" height="3.00" fill="#000" opacity="0.006"/>
<rect x="270.70" y="94.70" width="11.00" height="3.00" fill="#000" opacity="0.006"/>
<rect x="270.70" y="91.20" width="11.00" height="3.00" fill="#000" opacity="0.005"/>
<rect x="284.75" y="184.05" width="11.50" height="5.50" fill="#000" opacity="0.100"/>
<rect x="284.75" y="149.50" width="11.50" height="3.00" fill="#000" opacity="0.126"/>
<rect x="285.00" y="171.80" width="11.00" height="3.00" fill="#000" opacity="0.026"/>
<rect x="285.00" y="160.20" width="11.00" height="3.00" fill="#000" opacity="0.023"/>
<rect x="285.00" y="149.60" width="11.00" height="3.00" fill="#000" opacity="0.020"/>
<rect x="285.00" y="140.30" width="11.00" height="3.00" fill="#000" opacity="0.017"/>
<rect x="285.00" y="132.10" width="11.00" height="3.00" fill="#000" opacity="0.015"/>
<rect x="285.00" y="125.10" width="11.00" height="3.00" fill="#000" opacity="0.013"/>
<rect x="285.00" y="118.80" width="11.00" height="3.00" fill="#000" opacity="0.011"/>
<rect x="285.00" y="113.40" width="11.00" height="3.00" fill="#000" opacity="0.010"/>
<rect x="285.00" y="108.10" width="11.00" height="3.00" fill="#000" opacity="0.009"/>
<rect x="285.00" y="102.90" width="11.00" height="3.00" fill="#000" opacity="0.007"/>
<rect x="285.00" y="98.70" width="11.00" height="3.00" fill="#000" opacity="0.006"/>
<rect x="285.00" y="94.70" width="11.00" height="3.00" fill="#000" opacity="0.006"/>
<rect x="285.00" y="91.20" width="11.00" height="3.00" fill="#000" opacity="0.005"/>
<rect x="299.55" y="182.65" width="11.50" height="5.50" fill="#000" opacity="0.425"/>
<rect x="299.55" y="149.50" width="11.50" height="3.00" fill="#000" opacity="0.112"/>
<rect x="299.80" y="171.80" width="11.00" height="3.00" fill="#000" opacity="0.039"/>
<rect x="299.80" y="160.20" width="11.00" height="3.00" fill="#000" opacity="0.034"/>
<rect x="299.80" y="149.60" width="11.00" height="3.00" fill="#000" opacity="0.030"/>
<rect x="299.80" y="140.30" width="11.00" height="3.00" fill="#000" opacity="0.026"/>
<rect x="299.80" y="132.10" width="11.00" height="3.00" fill="#000" opacity="0.022"/>
<rect x="299.80" y="125.10" width="11.00" height="3.00" fill="#000" opacity="0.020"/>
<rect x="299.80" y="118.80" width="11.00" height="3.00" fill="#000" opacity="0.017"/>
<rect x="299.80" y="113.40" width="11.00" height="3.00" fill="#000" opacity="0.015"/>
<rect x="299.80" y="108.10" width="11.00" height="3.00" fill="#000" opacity="0.013"/>
<rect x="299.80" y="102.90" width="11.00" height="3.00" fill="#000" opacity="0.011"/>
<rect x="299.80" y="98.70" width="11.00" height="3.00" fill="#000" opacity="0.010"/>
<rect x="299.80" y="94.70" width="11.00" height="3.00" fill="#000" opacity="0.008"/>
<rect x="299.80" y="91.20" width="11.00" height="3.00" fill="#000" opacity="0.007"/>
<rect x="314.25" y="181.25" width="11.50" height="5.50" fill="#000" opacity="0.312"/>
<rect x="314.25" y="149.50" width="11.50" height="3.00" fill="#000" opacity="0.112"/>
<rect x="314.50" y="171.80" width="11.00" height="3.00" fill="#000" opacity="0.026"/>
<rect x="314.50" y="160.20" width="11.00" height="3.00" fill="#000" opacity="0.023"/>
<rect x="314.50" y="149.60" width="11.00" height="3.00" fill="#000" opacity="0.020"/>
<rect x="314.50" y="140.30" width="11.00" height="3.00" fill="#000" opacity="0.017"/>
<rect x="314.50" y="132.10" width="11.00" height="3.00" fill="#000" opacity="0.015"/>
<rect x="314.50" y="125.10" width="11.00" height="3.00" fill="#000" opacity="0.013"/>
<rect x="314.50" y="118.80" width="11.00" height="3.00" fill="#000" opacity="0.011"/>
<rect x="314.50" y="113.40" width="11.00" height="3.00" fill="#000" opacity="0.010"/>
<rect x="314.50" y="108.10" width="11.00" height="3.00" fill="#000" opacity="0.009"/>
<rect x="314.50" y="102.90" width="11.00" height="3.00" fill="#000" opacity="0.007"/>
<rect x="314.50" y="98.70" width="11.00" height="3.00" fill="#000" opacity="0.006"/>
<rect x="314.50" y="94.70" width="11.00" height="3.00" fill="#000" opacity="0.006"/>
<rect x="314.50" y="91.20" width="11.00" height="3.00" fill="#000" opacity="0.005"/>
<rect x="328.40" y="75.00" width="11.00" height="10.00" fill="#000" opacity="0.060"/>
</g>
<g filter="url(#bl0)">
<rect x="328.40" y="84" width="11" height="102" fill="#fff" opacity="0.10"/>
<rect x="328.40" y="181.80" width="11.00" height="3.20" fill="#000" opacity="0.950"/>
<rect x="328.40" y="167.60" width="11.00" height="2.80" fill="#000" opacity="0.893"/>
<rect x="328.40" y="155.90" width="11.00" height="2.80" fill="#000" opacity="0.839"/>
<rect x="328.40" y="145.90" width="11.00" height="2.80" fill="#000" opacity="0.789"/>
<rect x="328.40" y="136.80" width="11.00" height="2.80" fill="#000" opacity="0.742"/>
<rect x="328.40" y="130.10" width="11.00" height="2.20" fill="#000" opacity="0.697"/>
<rect x="328.40" y="122.90" width="11.00" height="2.20" fill="#000" opacity="0.655"/>
<rect x="328.40" y="116.30" width="11.00" height="2.20" fill="#000" opacity="0.616"/>
<rect x="328.40" y="111.30" width="11.00" height="2.20" fill="#000" opacity="0.579"/>
<rect x="328.40" y="106.30" width="11.00" height="2.20" fill="#000" opacity="0.544"/>
<rect x="328.40" y="101.30" width="11.00" height="2.20" fill="#000" opacity="0.512"/>
<rect x="328.40" y="97.20" width="11.00" height="2.20" fill="#000" opacity="0.481"/>
<rect x="328.40" y="93.50" width="11.00" height="2.20" fill="#000" opacity="0.452"/>
<rect x="328.40" y="90.50" width="11.00" height="2.20" fill="#000" opacity="0.425"/>
<rect x="328.40" y="88.00" width="11.00" height="2.20" fill="#000" opacity="0.399"/>
<rect x="328.40" y="85.70" width="11.00" height="2.20" fill="#000" opacity="0.376"/>
<rect x="328.40" y="83.60" width="11.00" height="2.20" fill="#000" opacity="0.353"/>
<rect x="342.00" y="117" width="12" height="68" fill="#fff" opacity="0.10"/>
<rect x="342.00" y="178.90" width="12.00" height="4.20" fill="#000" opacity="0.950"/>
<rect x="342.00" y="165.10" width="12.00" height="3.40" fill="#000" opacity="0.850"/>
<rect x="342.00" y="153.70" width="12.00" height="3.60" fill="#000" opacity="0.900"/>
<rect x="342.00" y="142.25" width="12.00" height="5.50" fill="#000" opacity="1.000"/>
<rect x="342.00" y="134.90" width="12.00" height="3.40" fill="#000" opacity="0.850"/>
<rect x="342.00" y="127.00" width="12.00" height="3.00" fill="#000" opacity="0.600"/>
<rect x="342.00" y="118.50" width="12.00" height="3.00" fill="#000" opacity="0.300"/>
<rect x="342.00" y="87.90" width="12.00" height="2.20" fill="#000" opacity="0.300"/>
</g>
<rect x="52.5" y="42" width="307.10" height="206.60" filter="url(#noise)" opacity="0.16"/>
</g>
<rect x="365.6" y="42.4" width="313.40" height="209.00" fill="#b0b0b0"/>
<g clip-path="url(#clip365)">
<g filter="url(#bl2)">
<rect x="387.30" y="42.4" width="11" height="209.00" fill="#000" opacity="0.030"/>
<rect x="402.20" y="42.4" width="11" height="209.00" fill="#000" opacity="0.020"/>
<rect x="417.70" y="42.4" width="11" height="209.00" fill="#000" opacity="0.010"/>
<rect x="432.90" y="42.4" width="11" height="209.00" fill="#000" opacity="0.030"/>
<rect x="447.70" y="42.4" width="11" height="209.00" fill="#000" opacity="0.030"/>
<rect x="462.50" y="42.4" width="11" height="209.00" fill="#000" opacity="0.030"/>
<rect x="477.70" y="42.4" width="11" height="209.00" fill="#000" opacity="0.020"/>
<rect x="492.90" y="42.4" width="11" height="209.00" fill="#000" opacity="0.030"/>
<rect x="507.80" y="42.4" width="11" height="209.00" fill="#000" opacity="0.040"/>
<rect x="522.90" y="42.4" width="11" height="209.00" fill="#000" opacity="0.020"/>
<rect x="537.50" y="42.4" width="11" height="209.00" fill="#000" opacity="0.020"/>
<rect x="553.00" y="42.4" width="11" height="209.00" fill="#000" opacity="0.030"/>
<rect x="568.50" y="42.4" width="11" height="209.00" fill="#000" opacity="0.020"/>
<rect x="583.40" y="42.4" width="11" height="209.00" fill="#000" opacity="0.020"/>
<rect x="598.90" y="42.4" width="11" height="209.00" fill="#000" opacity="0.010"/>
<rect x="614.00" y="42.4" width="11" height="209.00" fill="#000" opacity="0.020"/>
<rect x="645.00" y="42.4" width="11" height="209.00" fill="#000" opacity="0.050"/>
<rect x="660.70" y="42.4" width="11" height="209.00" fill="#000" opacity="0.020"/>
<rect x="383.95" y="42.4" width="2" height="209.00" fill="#fff" opacity="0.09"/>
<rect x="399.25" y="42.4" width="2" height="209.00" fill="#fff" opacity="0.09"/>
<rect x="414.45" y="42.4" width="2" height="209.00" fill="#fff" opacity="0.09"/>
<rect x="429.80" y="42.4" width="2" height="209.00" fill="#fff" opacity="0.09"/>
<rect x="444.80" y="42.4" width="2" height="209.00" fill="#fff" opacity="0.09"/>
<rect x="459.60" y="42.4" width="2" height="209.00" fill="#fff" opacity="0.09"/>
<rect x="474.60" y="42.4" width="2" height="209.00" fill="#fff" opacity="0.09"/>
<rect x="489.80" y="42.4" width="2" height="209.00" fill="#fff" opacity="0.09"/>
<rect x="504.85" y="42.4" width="2" height="209.00" fill="#fff" opacity="0.09"/>
<rect x="519.85" y="42.4" width="2" height="209.00" fill="#fff" opacity="0.09"/>
<rect x="534.70" y="42.4" width="2" height="209.00" fill="#fff" opacity="0.09"/>
<rect x="549.75" y="42.4" width="2" height="209.00" fill="#fff" opacity="0.09"/>
<rect x="565.25" y="42.4" width="2" height="209.00" fill="#fff" opacity="0.09"/>
<rect x="580.45" y="42.4" width="2" height="209.00" fill="#fff" opacity="0.09"/>
<rect x="595.65" y="42.4" width="2" height="209.00" fill="#fff" opacity="0.09"/>
<rect x="610.95" y="42.4" width="2" height="209.00" fill="#fff" opacity="0.09"/>
<rect x="626.10" y="42.4" width="2" height="209.00" fill="#fff" opacity="0.09"/>
<rect x="641.60" y="42.4" width="2" height="209.00" fill="#fff" opacity="0.09"/>
<rect x="657.35" y="42.4" width="2" height="209.00" fill="#fff" opacity="0.09"/>
</g>
<g filter="url(#bl1)">
<path d="M371.20,199.60 L383.00,204.40 L383.00,219.40 L371.20,214.60Z" fill="url(#gU)" opacity="0.427"/>
<rect x="371.20" y="199.60" width="2.4" height="15.00" fill="url(#gU)" opacity="0.902"/>
<rect x="380.60" y="204.40" width="2.4" height="15.00" fill="url(#gU)" opacity="0.902"/>
<path d="M374.00,202.06 L380.20,204.94 L380.20,217.44 L374.00,214.56Z" fill="#fff" opacity="0.28"/>
<path d="M371.20,213.60 L383.00,218.40 L383.00,226.00 L372.20,221.20Z" fill="#000" opacity="0.950"/>
<path d="M372.20,217.40 L382.00,222.20 L382.00,225.50 L372.70,220.70Z" fill="#000" opacity="0.570"/>
<path d="M386.90,205.80 L398.70,205.80 L398.70,220.80 L386.90,220.80Z" fill="url(#gU)" opacity="0.427"/>
<rect x="386.90" y="205.80" width="2.4" height="15.00" fill="url(#gU)" opacity="0.902"/>
<rect x="396.30" y="205.80" width="2.4" height="15.00" fill="url(#gU)" opacity="0.902"/>
<path d="M389.70,207.30 L395.90,207.30 L395.90,219.80 L389.70,219.80Z" fill="#fff" opacity="0.28"/>
<path d="M386.90,219.80 L398.70,219.80 L398.70,227.40 L387.90,227.40Z" fill="#000" opacity="0.950"/>
<path d="M387.90,223.60 L397.70,223.60 L397.70,226.90 L388.40,226.90Z" fill="#000" opacity="0.570"/>
<path d="M401.80,207.70 L413.60,207.70 L413.60,222.70 L401.80,222.70Z" fill="url(#gU)" opacity="0.427"/>
<rect x="401.80" y="207.70" width="2.4" height="15.00" fill="url(#gU)" opacity="0.902"/>
<rect x="411.20" y="207.70" width="2.4" height="15.00" fill="url(#gU)" opacity="0.902"/>
<path d="M404.60,209.20 L410.80,209.20 L410.80,221.70 L404.60,221.70Z" fill="#fff" opacity="0.28"/>
<path d="M401.80,221.70 L413.60,221.70 L413.60,229.30 L402.80,229.30Z" fill="#000" opacity="0.950"/>
<path d="M402.80,225.50 L412.60,225.50 L412.60,228.80 L403.30,228.80Z" fill="#000" opacity="0.570"/>
<path d="M417.30,208.50 L429.10,208.50 L429.10,223.50 L417.30,223.50Z" fill="url(#gU)" opacity="0.427"/>
<rect x="417.30" y="208.50" width="2.4" height="15.00" fill="url(#gU)" opacity="0.902"/>
<rect x="426.70" y="208.50" width="2.4" height="15.00" fill="url(#gU)" opacity="0.902"/>
<path d="M420.10,210.00 L426.30,210.00 L426.30,222.50 L420.10,222.50Z" fill="#fff" opacity="0.28"/>
<path d="M417.30,222.50 L429.10,222.50 L429.10,230.10 L418.30,230.10Z" fill="#000" opacity="0.950"/>
<path d="M418.30,226.30 L428.10,226.30 L428.10,229.60 L418.80,229.60Z" fill="#000" opacity="0.570"/>
<path d="M432.50,208.80 L444.30,208.80 L444.30,223.80 L432.50,223.80Z" fill="url(#gU)" opacity="0.427"/>
<rect x="432.50" y="208.80" width="2.4" height="15.00" fill="url(#gU)" opacity="0.902"/>
<rect x="441.90" y="208.80" width="2.4" height="15.00" fill="url(#gU)" opacity="0.902"/>
<path d="M435.30,210.30 L441.50,210.30 L441.50,222.80 L435.30,222.80Z" fill="#fff" opacity="0.28"/>
<path d="M432.50,222.80 L444.30,222.80 L444.30,230.40 L433.50,230.40Z" fill="#000" opacity="0.950"/>
<path d="M433.50,226.60 L443.30,226.60 L443.30,229.90 L434.00,229.90Z" fill="#000" opacity="0.570"/>
<path d="M447.30,209.30 L459.10,209.30 L459.10,224.30 L447.30,224.30Z" fill="url(#gU)" opacity="0.427"/>
<rect x="447.30" y="209.30" width="2.4" height="15.00" fill="url(#gU)" opacity="0.902"/>
<rect x="456.70" y="209.30" width="2.4" height="15.00" fill="url(#gU)" opacity="0.902"/>
<path d="M450.10,210.80 L456.30,210.80 L456.30,223.30 L450.10,223.30Z" fill="#fff" opacity="0.28"/>
<path d="M447.30,223.30 L459.10,223.30 L459.10,230.90 L448.30,230.90Z" fill="#000" opacity="0.950"/>
<path d="M448.30,227.10 L458.10,227.10 L458.10,230.40 L448.80,230.40Z" fill="#000" opacity="0.570"/>
<path d="M462.10,209.30 L473.90,209.30 L473.90,224.30 L462.10,224.30Z" fill="url(#gU)" opacity="0.427"/>
<rect x="462.10" y="209.30" width="2.4" height="15.00" fill="url(#gU)" opacity="0.902"/>
<rect x="471.50" y="209.30" width="2.4" height="15.00" fill="url(#gU)" opacity="0.902"/>
<path d="M464.90,210.80 L471.10,210.80 L471.10,223.30 L464.90,223.30Z" fill="#fff" opacity="0.28"/>
<path d="M462.10,223.30 L473.90,223.30 L473.90,230.90 L463.10,230.90Z" fill="#000" opacity="0.950"/>
<path d="M463.10,227.10 L472.90,227.10 L472.90,230.40 L463.60,230.40Z" fill="#000" opacity="0.570"/>
<path d="M477.30,209.30 L489.10,209.30 L489.10,224.30 L477.30,224.30Z" fill="url(#gU)" opacity="0.427"/>
<rect x="477.30" y="209.30" width="2.4" height="15.00" fill="url(#gU)" opacity="0.902"/>
<rect x="486.70" y="209.30" width="2.4" height="15.00" fill="url(#gU)" opacity="0.902"/>
<path d="M480.10,210.80 L486.30,210.80 L486.30,223.30 L480.10,223.30Z" fill="#fff" opacity="0.28"/>
<path d="M477.30,223.30 L489.10,223.30 L489.10,230.90 L478.30,230.90Z" fill="#000" opacity="0.950"/>
<path d="M478.30,227.10 L488.10,227.10 L488.10,230.40 L478.80,230.40Z" fill="#000" opacity="0.570"/>
<path d="M492.50,209.30 L504.30,209.30 L504.30,224.30 L492.50,224.30Z" fill="url(#gU)" opacity="0.427"/>
<rect x="492.50" y="209.30" width="2.4" height="15.00" fill="url(#gU)" opacity="0.902"/>
<rect x="501.90" y="209.30" width="2.4" height="15.00" fill="url(#gU)" opacity="0.902"/>
<path d="M495.30,210.80 L501.50,210.80 L501.50,223.30 L495.30,223.30Z" fill="#fff" opacity="0.28"/>
<path d="M492.50,223.30 L504.30,223.30 L504.30,230.90 L493.50,230.90Z" fill="#000" opacity="0.950"/>
<path d="M493.50,227.10 L503.30,227.10 L503.30,230.40 L494.00,230.40Z" fill="#000" opacity="0.570"/>
<path d="M507.40,209.30 L519.20,209.30 L519.20,224.30 L507.40,224.30Z" fill="url(#gU)" opacity="0.427"/>
<rect x="507.40" y="209.30" width="2.4" height="15.00" fill="url(#gU)" opacity="0.902"/>
<rect x="516.80" y="209.30" width="2.4" height="15.00" fill="url(#gU)" opacity="0.902"/>
<path d="M510.20,210.80 L516.40,210.80 L516.40,223.30 L510.20,223.30Z" fill="#fff" opacity="0.28"/>
<path d="M507.40,223.30 L519.20,223.30 L519.20,230.90 L508.40,230.90Z" fill="#000" opacity="0.950"/>
<path d="M508.40,227.10 L518.20,227.10 L518.20,230.40 L508.90,230.40Z" fill="#000" opacity="0.570"/>
<path d="M522.50,209.30 L534.30,209.30 L534.30,224.30 L522.50,224.30Z" fill="url(#gU)" opacity="0.427"/>
<rect x="522.50" y="209.30" width="2.4" height="15.00" fill="url(#gU)" opacity="0.902"/>
<rect x="531.90" y="209.30" width="2.4" height="15.00" fill="url(#gU)" opacity="0.902"/>
<path d="M525.30,210.80 L531.50,210.80 L531.50,223.30 L525.30,223.30Z" fill="#fff" opacity="0.28"/>
<path d="M522.50,223.30 L534.30,223.30 L534.30,230.90 L523.50,230.90Z" fill="#000" opacity="0.950"/>
<path d="M523.50,227.10 L533.30,227.10 L533.30,230.40 L524.00,230.40Z" fill="#000" opacity="0.570"/>
<path d="M537.10,209.30 L548.90,209.30 L548.90,224.30 L537.10,224.30Z" fill="url(#gU)" opacity="0.427"/>
<rect x="537.10" y="209.30" width="2.4" height="15.00" fill="url(#gU)" opacity="0.902"/>
<rect x="546.50" y="209.30" width="2.4" height="15.00" fill="url(#gU)" opacity="0.902"/>
<path d="M539.90,210.80 L546.10,210.80 L546.10,223.30 L539.90,223.30Z" fill="#fff" opacity="0.28"/>
<path d="M537.10,223.30 L548.90,223.30 L548.90,230.90 L538.10,230.90Z" fill="#000" opacity="0.950"/>
<path d="M538.10,227.10 L547.90,227.10 L547.90,230.40 L538.60,230.40Z" fill="#000" opacity="0.570"/>
<path d="M552.60,209.30 L564.40,209.30 L564.40,224.30 L552.60,224.30Z" fill="url(#gU)" opacity="0.427"/>
<rect x="552.60" y="209.30" width="2.4" height="15.00" fill="url(#gU)" opacity="0.902"/>
<rect x="562.00" y="209.30" width="2.4" height="15.00" fill="url(#gU)" opacity="0.902"/>
<path d="M555.40,210.80 L561.60,210.80 L561.60,223.30 L555.40,223.30Z" fill="#fff" opacity="0.28"/>
<path d="M552.60,223.30 L564.40,223.30 L564.40,230.90 L553.60,230.90Z" fill="#000" opacity="0.950"/>
<path d="M553.60,227.10 L563.40,227.10 L563.40,230.40 L554.10,230.40Z" fill="#000" opacity="0.570"/>
<path d="M568.10,209.30 L579.90,209.30 L579.90,224.30 L568.10,224.30Z" fill="url(#gU)" opacity="0.427"/>
<rect x="568.10" y="209.30" width="2.4" height="15.00" fill="url(#gU)" opacity="0.902"/>
<rect x="577.50" y="209.30" width="2.4" height="15.00" fill="url(#gU)" opacity="0.902"/>
<path d="M570.90,210.80 L577.10,210.80 L577.10,223.30 L570.90,223.30Z" fill="#fff" opacity="0.28"/>
<path d="M568.10,223.30 L579.90,223.30 L579.90,230.90 L569.10,230.90Z" fill="#000" opacity="0.950"/>
<path d="M569.10,227.10 L578.90,227.10 L578.90,230.40 L569.60,230.40Z" fill="#000" opacity="0.570"/>
<path d="M583.00,209.30 L594.80,209.30 L594.80,224.30 L583.00,224.30Z" fill="url(#gU)" opacity="0.427"/>
<rect x="583.00" y="209.30" width="2.4" height="15.00" fill="url(#gU)" opacity="0.902"/>
<rect x="592.40" y="209.30" width="2.4" height="15.00" fill="url(#gU)" opacity="0.902"/>
<path d="M585.80,210.80 L592.00,210.80 L592.00,223.30 L585.80,223.30Z" fill="#fff" opacity="0.28"/>
<path d="M583.00,223.30 L594.80,223.30 L594.80,230.90 L584.00,230.90Z" fill="#000" opacity="0.950"/>
<path d="M584.00,227.10 L593.80,227.10 L593.80,230.40 L584.50,230.40Z" fill="#000" opacity="0.570"/>
<path d="M598.50,209.20 L610.30,209.20 L610.30,224.20 L598.50,224.20Z" fill="url(#gU)" opacity="0.427"/>
<rect x="598.50" y="209.20" width="2.4" height="15.00" fill="url(#gU)" opacity="0.902"/>
<rect x="607.90" y="209.20" width="2.4" height="15.00" fill="url(#gU)" opacity="0.902"/>
<path d="M601.30,210.70 L607.50,210.70 L607.50,223.20 L601.30,223.20Z" fill="#fff" opacity="0.28"/>
<path d="M598.50,223.20 L610.30,223.20 L610.30,230.80 L599.50,230.80Z" fill="#000" opacity="0.950"/>
<path d="M599.50,227.00 L609.30,227.00 L609.30,230.30 L600.00,230.30Z" fill="#000" opacity="0.570"/>
<path d="M613.60,209.20 L625.40,209.20 L625.40,224.20 L613.60,224.20Z" fill="url(#gU)" opacity="0.427"/>
<rect x="613.60" y="209.20" width="2.4" height="15.00" fill="url(#gU)" opacity="0.902"/>
<rect x="623.00" y="209.20" width="2.4" height="15.00" fill="url(#gU)" opacity="0.902"/>
<path d="M616.40,210.70 L622.60,210.70 L622.60,223.20 L616.40,223.20Z" fill="#fff" opacity="0.28"/>
<path d="M613.60,223.20 L625.40,223.20 L625.40,230.80 L614.60,230.80Z" fill="#000" opacity="0.950"/>
<path d="M614.60,227.00 L624.40,227.00 L624.40,230.30 L615.10,230.30Z" fill="#000" opacity="0.570"/>
<path d="M628.80,209.20 L640.60,209.20 L640.60,224.20 L628.80,224.20Z" fill="url(#gU)" opacity="0.427"/>
<rect x="628.80" y="209.20" width="2.4" height="15.00" fill="url(#gU)" opacity="0.902"/>
<rect x="638.20" y="209.20" width="2.4" height="15.00" fill="url(#gU)" opacity="0.902"/>
<path d="M631.60,210.70 L637.80,210.70 L637.80,223.20 L631.60,223.20Z" fill="#fff" opacity="0.28"/>
<path d="M628.80,223.20 L640.60,223.20 L640.60,230.80 L629.80,230.80Z" fill="#000" opacity="0.950"/>
<path d="M629.80,227.00 L639.60,227.00 L639.60,230.30 L630.30,230.30Z" fill="#000" opacity="0.570"/>
<path d="M644.60,207.90 L656.40,207.90 L656.40,222.90 L644.60,222.90Z" fill="url(#gU)" opacity="0.427"/>
<rect x="644.60" y="207.90" width="2.4" height="15.00" fill="url(#gU)" opacity="0.902"/>
<rect x="654.00" y="207.90" width="2.4" height="15.00" fill="url(#gU)" opacity="0.902"/>
<path d="M647.40,209.40 L653.60,209.40 L653.60,221.90 L647.40,221.90Z" fill="#fff" opacity="0.28"/>
<path d="M644.60,221.90 L656.40,221.90 L656.40,229.50 L645.60,229.50Z" fill="#000" opacity="0.950"/>
<path d="M645.60,225.70 L655.40,225.70 L655.40,229.00 L646.10,229.00Z" fill="#000" opacity="0.570"/>
<path d="M660.30,207.65 L672.10,204.45 L672.10,219.45 L660.30,222.65Z" fill="url(#gU)" opacity="0.360"/>
<rect x="660.30" y="207.65" width="2.4" height="15.00" fill="url(#gU)" opacity="0.760"/>
<rect x="669.70" y="204.45" width="2.4" height="15.00" fill="url(#gU)" opacity="0.760"/>
<path d="M663.10,208.51 L669.30,206.59 L669.30,219.09 L663.10,221.01Z" fill="#fff" opacity="0.28"/>
<path d="M660.30,221.65 L672.10,218.45 L672.10,223.95 L661.30,227.15Z" fill="#000" opacity="0.800"/>
<path d="M661.30,224.40 L671.10,221.20 L671.10,223.45 L661.80,226.65Z" fill="#000" opacity="0.480"/>
<rect x="371.10" y="181.75" width="12.00" height="4.50" fill="#000" opacity="0.080"/>
<rect x="371.10" y="148.20" width="12.00" height="3.20" fill="#000" opacity="0.220"/>
<rect x="386.80" y="181.75" width="12.00" height="4.50" fill="#000" opacity="0.350"/>
<rect x="386.80" y="148.20" width="12.00" height="3.20" fill="#000" opacity="0.060"/>
<rect x="386.80" y="159.00" width="12.00" height="3.00" fill="#000" opacity="0.060"/>
<rect x="386.80" y="168.00" width="12.00" height="3.00" fill="#000" opacity="0.150"/>
<rect x="401.70" y="181.75" width="12.00" height="4.50" fill="#000" opacity="0.280"/>
<rect x="401.70" y="148.20" width="12.00" height="3.20" fill="#000" opacity="0.020"/>
<rect x="401.70" y="159.00" width="12.00" height="3.00" fill="#000" opacity="0.060"/>
<rect x="401.70" y="168.00" width="12.00" height="3.00" fill="#000" opacity="0.140"/>
<rect x="417.20" y="181.75" width="12.00" height="4.50" fill="#000" opacity="0.150"/>
<rect x="417.20" y="148.20" width="12.00" height="3.20" fill="#000" opacity="0.140"/>
<rect x="417.20" y="159.00" width="12.00" height="3.00" fill="#000" opacity="0.040"/>
<rect x="417.20" y="168.00" width="12.00" height="3.00" fill="#000" opacity="0.040"/>
<rect x="432.40" y="181.75" width="12.00" height="4.50" fill="#000" opacity="0.350"/>
<rect x="432.40" y="148.20" width="12.00" height="3.20" fill="#000" opacity="0.120"/>
<rect x="432.40" y="159.00" width="12.00" height="3.00" fill="#000" opacity="0.060"/>
<rect x="432.40" y="168.00" width="12.00" height="3.00" fill="#000" opacity="0.120"/>
<rect x="432.40" y="198.50" width="12.00" height="5.00" fill="#000" opacity="0.080"/>
<rect x="447.20" y="181.75" width="12.00" height="4.50" fill="#000" opacity="0.350"/>
<rect x="447.20" y="148.20" width="12.00" height="3.20" fill="#000" opacity="0.180"/>
<rect x="447.20" y="159.00" width="12.00" height="3.00" fill="#000" opacity="0.060"/>
<rect x="447.20" y="168.00" width="12.00" height="3.00" fill="#000" opacity="0.100"/>
<rect x="447.20" y="198.50" width="12.00" height="5.00" fill="#000" opacity="0.080"/>
<rect x="462.00" y="181.75" width="12.00" height="4.50" fill="#000" opacity="0.330"/>
<rect x="462.00" y="148.20" width="12.00" height="3.20" fill="#000" opacity="0.200"/>
<rect x="462.00" y="159.00" width="12.00" height="3.00" fill="#000" opacity="0.060"/>
<rect x="462.00" y="168.00" width="12.00" height="3.00" fill="#000" opacity="0.060"/>
<rect x="462.00" y="198.50" width="12.00" height="5.00" fill="#000" opacity="0.040"/>
<rect x="477.20" y="181.75" width="12.00" height="4.50" fill="#000" opacity="0.250"/>
<rect x="477.20" y="148.20" width="12.00" height="3.20" fill="#000" opacity="0.200"/>
<rect x="477.20" y="159.00" width="12.00" height="3.00" fill="#000" opacity="0.060"/>
<rect x="477.20" y="168.00" width="12.00" height="3.00" fill="#000" opacity="0.080"/>
<rect x="492.40" y="181.75" width="12.00" height="4.50" fill="#000" opacity="0.350"/>
<rect x="492.40" y="148.20" width="12.00" height="3.20" fill="#000" opacity="0.180"/>
<rect x="492.40" y="159.00" width="12.00" height="3.00" fill="#000" opacity="0.080"/>
<rect x="492.40" y="168.00" width="12.00" height="3.00" fill="#000" opacity="0.100"/>
<rect x="492.40" y="198.50" width="12.00" height="5.00" fill="#000" opacity="0.100"/>
<rect x="507.30" y="181.75" width="12.00" height="4.50" fill="#000" opacity="0.350"/>
<rect x="507.30" y="148.20" width="12.00" height="3.20" fill="#000" opacity="0.220"/>
<rect x="507.30" y="159.00" width="12.00" height="3.00" fill="#000" opacity="0.100"/>
<rect x="507.30" y="168.00" width="12.00" height="3.00" fill="#000" opacity="0.100"/>
<rect x="507.30" y="198.50" width="12.00" height="5.00" fill="#000" opacity="0.100"/>
<rect x="522.40" y="181.75" width="12.00" height="4.50" fill="#000" opacity="0.200"/>
<rect x="522.40" y="148.20" width="12.00" height="3.20" fill="#000" opacity="0.180"/>
<rect x="522.40" y="159.00" width="12.00" height="3.00" fill="#000" opacity="0.080"/>
<rect x="522.40" y="168.00" width="12.00" height="3.00" fill="#000" opacity="0.050"/>
<rect x="522.40" y="198.50" width="12.00" height="5.00" fill="#000" opacity="0.040"/>
<rect x="537.00" y="181.75" width="12.00" height="4.50" fill="#000" opacity="0.200"/>
<rect x="537.00" y="148.20" width="12.00" height="3.20" fill="#000" opacity="0.160"/>
<rect x="537.00" y="159.00" width="12.00" height="3.00" fill="#000" opacity="0.080"/>
<rect x="537.00" y="168.00" width="12.00" height="3.00" fill="#000" opacity="0.050"/>
<rect x="552.50" y="181.75" width="12.00" height="4.50" fill="#000" opacity="0.320"/>
<rect x="552.50" y="148.20" width="12.00" height="3.20" fill="#000" opacity="0.140"/>
<rect x="552.50" y="159.00" width="12.00" height="3.00" fill="#000" opacity="0.060"/>
<rect x="552.50" y="168.00" width="12.00" height="3.00" fill="#000" opacity="0.050"/>
<rect x="552.50" y="197.75" width="12.00" height="6.50" fill="#000" opacity="0.490"/>
<rect x="568.00" y="181.75" width="12.00" height="4.50" fill="#000" opacity="0.300"/>
<rect x="568.00" y="148.20" width="12.00" height="3.20" fill="#000" opacity="0.140"/>
<rect x="568.00" y="159.00" width="12.00" height="3.00" fill="#000" opacity="0.100"/>
<rect x="568.00" y="168.00" width="12.00" height="3.00" fill="#000" opacity="0.050"/>
<rect x="582.90" y="181.75" width="12.00" height="4.50" fill="#000" opacity="0.300"/>
<rect x="582.90" y="148.20" width="12.00" height="3.20" fill="#000" opacity="0.120"/>
<rect x="582.90" y="159.00" width="12.00" height="3.00" fill="#000" opacity="0.060"/>
<rect x="582.90" y="168.00" width="12.00" height="3.00" fill="#000" opacity="0.060"/>
<rect x="598.40" y="181.75" width="12.00" height="4.50" fill="#000" opacity="0.140"/>
<rect x="598.40" y="148.20" width="12.00" height="3.20" fill="#000" opacity="0.120"/>
<rect x="598.40" y="159.00" width="12.00" height="3.00" fill="#000" opacity="0.040"/>
<rect x="598.40" y="168.00" width="12.00" height="3.00" fill="#000" opacity="0.030"/>
<rect x="613.50" y="181.75" width="12.00" height="4.50" fill="#000" opacity="0.250"/>
<rect x="613.50" y="148.20" width="12.00" height="3.20" fill="#000" opacity="0.120"/>
<rect x="613.50" y="159.00" width="12.00" height="3.00" fill="#000" opacity="0.040"/>
<rect x="613.50" y="168.00" width="12.00" height="3.00" fill="#000" opacity="0.030"/>
<rect x="628.70" y="181.75" width="12.00" height="4.50" fill="#000" opacity="0.060"/>
<rect x="628.70" y="148.20" width="12.00" height="3.20" fill="#000" opacity="0.250"/>
<rect x="643.20" y="68.00" width="11.00" height="12.00" fill="#000" opacity="0.070"/>
</g>
<g filter="url(#bl0)">
<rect x="642.70" y="78" width="12" height="108" fill="#fff" opacity="0.12"/>
<rect x="642.70" y="181.50" width="12.00" height="3.40" fill="#000" opacity="1.000"/>
<rect x="642.70" y="168.35" width="12.00" height="2.90" fill="#000" opacity="0.987"/>
<rect x="642.70" y="157.55" width="12.00" height="2.90" fill="#000" opacity="0.928"/>
<rect x="642.70" y="148.05" width="12.00" height="2.90" fill="#000" opacity="0.872"/>
<rect x="642.70" y="139.35" width="12.00" height="2.90" fill="#000" opacity="0.820"/>
<rect x="642.70" y="131.85" width="12.00" height="2.90" fill="#000" opacity="0.771"/>
<rect x="642.70" y="124.65" width="12.00" height="2.30" fill="#000" opacity="0.724"/>
<rect x="642.70" y="118.85" width="12.00" height="2.30" fill="#000" opacity="0.681"/>
<rect x="642.70" y="113.05" width="12.00" height="2.30" fill="#000" opacity="0.640"/>
<rect x="642.70" y="108.05" width="12.00" height="2.30" fill="#000" opacity="0.602"/>
<rect x="642.70" y="103.05" width="12.00" height="2.30" fill="#000" opacity="0.566"/>
<rect x="642.70" y="98.85" width="12.00" height="2.30" fill="#000" opacity="0.532"/>
<rect x="642.70" y="94.65" width="12.00" height="2.30" fill="#000" opacity="0.500"/>
<rect x="642.70" y="91.35" width="12.00" height="2.30" fill="#000" opacity="0.470"/>
<rect x="642.70" y="88.05" width="12.00" height="2.30" fill="#000" opacity="0.442"/>
<rect x="642.70" y="84.65" width="12.00" height="2.30" fill="#000" opacity="0.415"/>
<rect x="642.70" y="81.35" width="12.00" height="2.30" fill="#000" opacity="0.390"/>
<rect x="642.70" y="78.85" width="12.00" height="2.30" fill="#000" opacity="0.367"/>
<rect x="657.70" y="125" width="13" height="62" fill="#fff" opacity="0.12"/>
<rect x="657.70" y="180.10" width="13.00" height="4.40" fill="#000" opacity="1.000"/>
<rect x="657.70" y="167.20" width="13.00" height="3.60" fill="#000" opacity="0.950"/>
<rect x="657.70" y="154.60" width="13.00" height="3.80" fill="#000" opacity="1.000"/>
<rect x="657.70" y="142.50" width="13.00" height="6.00" fill="#000" opacity="1.000"/>
<rect x="657.70" y="134.90" width="13.00" height="3.40" fill="#000" opacity="0.900"/>
<rect x="657.70" y="129.30" width="13.00" height="3.00" fill="#000" opacity="0.600"/>
<rect x="657.70" y="122.60" width="13.00" height="2.80" fill="#000" opacity="0.250"/>
<rect x="657.70" y="88.10" width="13.00" height="2.20" fill="#000" opacity="0.300"/>
</g>
<rect x="365.6" y="42.4" width="313.40" height="209.00" filter="url(#noise)" opacity="0.16"/>
</g>
<g filter="url(#bls)">
<circle cx="58.7" cy="65.6" r="1.50" fill="#222" opacity="0.85"/>
<circle cx="77.2" cy="83.1" r="1.50" fill="#222" opacity="0.85"/>
<circle cx="81.2" cy="63.8" r="1.40" fill="#222" opacity="0.85"/>
<circle cx="117.8" cy="91" r="1.60" fill="#222" opacity="0.85"/>
<circle cx="167" cy="53.2" r="1.50" fill="#222" opacity="0.85"/>
<circle cx="199.2" cy="91" r="1.50" fill="#222" opacity="0.85"/>
<circle cx="57.6" cy="143.6" r="1.40" fill="#222" opacity="0.85"/>
<circle cx="152" cy="145" r="1.40" fill="#222" opacity="0.85"/>
<circle cx="76.7" cy="134.1" r="1.30" fill="#222" opacity="0.85"/>
<circle cx="70" cy="55.5" r="1.10" fill="#222" opacity="0.85"/>
<circle cx="194.7" cy="47.6" r="1.30" fill="#222" opacity="0.85"/>
<circle cx="186.8" cy="64.5" r="1.20" fill="#222" opacity="0.85"/>
<circle cx="173.3" cy="83.6" r="1.10" fill="#222" opacity="0.85"/>
<circle cx="157.6" cy="97" r="1.10" fill="#222" opacity="0.85"/>
<circle cx="110.4" cy="102.7" r="1.10" fill="#222" opacity="0.85"/>
<circle cx="97" cy="100.4" r="1.10" fill="#222" opacity="0.85"/>
<circle cx="66" cy="101" r="1.10" fill="#222" opacity="0.85"/>
<circle cx="179" cy="115" r="1.10" fill="#222" opacity="0.85"/>
<circle cx="147.5" cy="75.7" r="1.10" fill="#222" opacity="0.85"/>
<circle cx="162.6" cy="52" r="1.10" fill="#222" opacity="0.85"/>
<circle cx="172.2" cy="70" r="1.10" fill="#222" opacity="0.85"/>
<circle cx="101.4" cy="57.7" r="1.10" fill="#222" opacity="0.85"/>
<circle cx="67.7" cy="169.8" r="1.30" fill="#222" opacity="0.85"/>
<circle cx="107" cy="160.8" r="1.10" fill="#222" opacity="0.85"/>
<circle cx="144" cy="174.3" r="1.40" fill="#222" opacity="0.85"/>
<circle cx="180.5" cy="183.7" r="1.10" fill="#222" opacity="0.85"/>
<circle cx="189" cy="186" r="1.30" fill="#222" opacity="0.85"/>
<circle cx="156.5" cy="223" r="1.10" fill="#222" opacity="0.85"/>
<circle cx="133" cy="225.3" r="1.20" fill="#222" opacity="0.85"/>
<circle cx="186.8" cy="211.8" r="1.10" fill="#222" opacity="0.85"/>
<circle cx="404.7" cy="65.4" r="1.20" fill="#222" opacity="0.85"/>
<circle cx="443.3" cy="68.2" r="1.10" fill="#222" opacity="0.85"/>
<circle cx="491.2" cy="65.4" r="1.20" fill="#222" opacity="0.85"/>
<circle cx="518" cy="64.7" r="1.70" fill="#222" opacity="0.85"/>
<circle cx="394.2" cy="100" r="1.40" fill="#222" opacity="0.85"/>
<circle cx="405.9" cy="157.7" r="1.30" fill="#222" opacity="0.85"/>
<circle cx="485.3" cy="128" r="1.60" fill="#222" opacity="0.85"/>
<circle cx="404.7" cy="191.5" r="1.40" fill="#222" opacity="0.85"/>
<circle cx="393" cy="234.8" r="1.40" fill="#222" opacity="0.85"/>
<circle cx="370.8" cy="235.5" r="1.20" fill="#222" opacity="0.85"/>
<circle cx="434.6" cy="175.6" r="1.20" fill="#222" opacity="0.85"/>
<circle cx="385.6" cy="105" r="1.10" fill="#222" opacity="0.85"/>
<circle cx="432.8" cy="91" r="1.10" fill="#222" opacity="0.85"/>
<circle cx="603" cy="72" r="1.30" fill="#222" opacity="0.85"/>
<circle cx="613.5" cy="91" r="1.30" fill="#222" opacity="0.85"/>
<circle cx="555" cy="109.8" r="1.20" fill="#222" opacity="0.85"/>
<circle cx="627.5" cy="123.3" r="1.20" fill="#222" opacity="0.85"/>
<circle cx="579.6" cy="136" r="1.30" fill="#222" opacity="0.85"/>
<circle cx="562" cy="87.6" r="1.10" fill="#222" opacity="0.85"/>
<circle cx="531.7" cy="182.2" r="1.20" fill="#222" opacity="0.85"/>
<circle cx="210.5" cy="45.5" r="1.20" fill="#222" opacity="0.85"/>
<circle cx="224.5" cy="81.7" r="1.40" fill="#222" opacity="0.85"/>
<circle cx="232.7" cy="67.2" r="1.20" fill="#222" opacity="0.85"/>
<circle cx="249.8" cy="81.7" r="1.20" fill="#222" opacity="0.85"/>
<circle cx="256" cy="84.5" r="1.10" fill="#222" opacity="0.85"/>
<circle cx="228" cy="113.3" r="1.20" fill="#222" opacity="0.85"/>
<circle cx="235" cy="140.6" r="1.20" fill="#222" opacity="0.85"/>
<circle cx="230.4" cy="150" r="1.20" fill="#222" opacity="0.85"/>
<circle cx="267.8" cy="108.6" r="1.10" fill="#222" opacity="0.85"/>
<circle cx="307" cy="48.5" r="1.30" fill="#222" opacity="0.85"/>
<circle cx="307.5" cy="109.8" r="1.10" fill="#222" opacity="0.85"/>
<circle cx="311" cy="116.3" r="1.20" fill="#222" opacity="0.85"/>
<circle cx="283" cy="158.4" r="1.20" fill="#222" opacity="0.85"/>
<circle cx="285.3" cy="168.9" r="1.10" fill="#222" opacity="0.85"/>
<circle cx="285.3" cy="193.9" r="1.10" fill="#222" opacity="0.85"/>
<circle cx="280.6" cy="210.7" r="1.20" fill="#222" opacity="0.85"/>
<circle cx="339.7" cy="64.2" r="1.20" fill="#222" opacity="0.85"/>
<circle cx="339" cy="58.4" r="1.10" fill="#222" opacity="0.85"/>
<circle cx="216.4" cy="160.7" r="1.20" fill="#222" opacity="0.85"/>
<circle cx="218.7" cy="206.7" r="1.10" fill="#222" opacity="0.85"/>
<circle cx="306.3" cy="243.4" r="1.20" fill="#222" opacity="0.85"/>
<line x1="81.5" y1="149.5" x2="86" y2="152.5" stroke="#222" stroke-width="2.0" opacity="0.85" stroke-linecap="round"/>
<line x1="93" y1="157" x2="96.5" y2="161" stroke="#222" stroke-width="2.0" opacity="0.85" stroke-linecap="round"/>
<circle cx="152.8" cy="75.2" r="0.8" fill="#444" opacity="0.41"/>
<circle cx="76.9" cy="152.2" r="0.8" fill="#444" opacity="0.34"/>
<circle cx="72.5" cy="146.5" r="0.8" fill="#444" opacity="0.26"/>
<circle cx="186.0" cy="59.0" r="0.8" fill="#444" opacity="0.27"/>
<circle cx="183.2" cy="210.4" r="0.8" fill="#444" opacity="0.28"/>
<circle cx="122.4" cy="170.5" r="0.8" fill="#444" opacity="0.49"/>
<circle cx="229.3" cy="124.3" r="0.8" fill="#444" opacity="0.49"/>
<circle cx="69.1" cy="216.7" r="0.8" fill="#444" opacity="0.32"/>
<circle cx="98.6" cy="68.6" r="0.8" fill="#444" opacity="0.33"/>
<circle cx="301.5" cy="81.1" r="0.8" fill="#444" opacity="0.40"/>
<circle cx="248.0" cy="119.5" r="0.8" fill="#444" opacity="0.39"/>
<circle cx="74.0" cy="56.9" r="0.8" fill="#444" opacity="0.30"/>
<circle cx="260.5" cy="130.5" r="0.8" fill="#444" opacity="0.33"/>
<circle cx="231.8" cy="135.6" r="0.8" fill="#444" opacity="0.32"/>
<circle cx="294.9" cy="184.8" r="0.8" fill="#444" opacity="0.31"/>
<circle cx="228.5" cy="150.0" r="0.8" fill="#444" opacity="0.47"/>
<circle cx="275.3" cy="102.6" r="0.8" fill="#444" opacity="0.50"/>
<circle cx="90.7" cy="128.6" r="0.8" fill="#444" opacity="0.44"/>
<circle cx="100.9" cy="142.8" r="0.8" fill="#444" opacity="0.26"/>
<circle cx="256.8" cy="197.9" r="0.8" fill="#444" opacity="0.39"/>
<circle cx="319.4" cy="107.7" r="0.8" fill="#444" opacity="0.42"/>
<circle cx="234.5" cy="161.0" r="0.8" fill="#444" opacity="0.36"/>
<circle cx="308.7" cy="233.9" r="0.8" fill="#444" opacity="0.37"/>
<circle cx="255.6" cy="57.1" r="0.8" fill="#444" opacity="0.43"/>
<circle cx="250.4" cy="243.6" r="0.8" fill="#444" opacity="0.46"/>
<circle cx="140.9" cy="122.2" r="0.8" fill="#444" opacity="0.42"/>
<circle cx="61.8" cy="137.3" r="0.8" fill="#444" opacity="0.29"/>
<circle cx="90.4" cy="56.8" r="0.8" fill="#444" opacity="0.44"/>
<circle cx="94.1" cy="94.5" r="0.8" fill="#444" opacity="0.35"/>
<circle cx="318.2" cy="61.1" r="0.8" fill="#444" opacity="0.36"/>
<circle cx="537.2" cy="224.3" r="0.8" fill="#444" opacity="0.45"/>
<circle cx="634.1" cy="101.5" r="0.8" fill="#444" opacity="0.35"/>
<circle cx="478.5" cy="224.5" r="0.8" fill="#444" opacity="0.49"/>
<circle cx="414.5" cy="80.8" r="0.8" fill="#444" opacity="0.31"/>
<circle cx="439.9" cy="143.4" r="0.8" fill="#444" opacity="0.40"/>
<circle cx="448.9" cy="45.8" r="0.8" fill="#444" opacity="0.35"/>
<circle cx="481.7" cy="160.0" r="0.8" fill="#444" opacity="0.49"/>
<circle cx="580.7" cy="149.6" r="0.8" fill="#444" opacity="0.40"/>
<circle cx="576.3" cy="56.0" r="0.8" fill="#444" opacity="0.47"/>
<circle cx="608.2" cy="222.5" r="0.8" fill="#444" opacity="0.45"/>
<circle cx="488.9" cy="126.0" r="0.8" fill="#444" opacity="0.28"/>
<circle cx="563.4" cy="57.6" r="0.8" fill="#444" opacity="0.27"/>
<circle cx="432.3" cy="77.9" r="0.8" fill="#444" opacity="0.34"/>
<circle cx="384.2" cy="45.0" r="0.8" fill="#444" opacity="0.29"/>
<circle cx="399.3" cy="118.8" r="0.8" fill="#444" opacity="0.26"/>
<circle cx="637.3" cy="169.7" r="0.8" fill="#444" opacity="0.29"/>
<circle cx="445.7" cy="115.5" r="0.8" fill="#444" opacity="0.34"/>
<circle cx="405.8" cy="217.3" r="0.8" fill="#444" opacity="0.50"/>
<circle cx="511.5" cy="143.2" r="0.8" fill="#444" opacity="0.27"/>
<circle cx="399.5" cy="114.6" r="0.8" fill="#444" opacity="0.32"/>
<circle cx="623.3" cy="77.8" r="0.8" fill="#444" opacity="0.26"/>
<circle cx="660.9" cy="152.2" r="0.8" fill="#444" opacity="0.29"/>
<circle cx="535.3" cy="50.5" r="0.8" fill="#444" opacity="0.38"/>
<circle cx="669.4" cy="220.3" r="0.8" fill="#444" opacity="0.42"/>
<circle cx="448.4" cy="119.4" r="0.8" fill="#444" opacity="0.29"/>
<circle cx="605.8" cy="153.1" r="0.8" fill="#444" opacity="0.44"/>
<circle cx="469.5" cy="90.3" r="0.8" fill="#444" opacity="0.45"/>
<circle cx="671.4" cy="218.1" r="0.8" fill="#444" opacity="0.45"/>
<circle cx="620.0" cy="195.2" r="0.8" fill="#444" opacity="0.31"/>
<circle cx="527.4" cy="117.2" r="0.8" fill="#444" opacity="0.26"/>
</g>
<text transform="translate(65.20,34.80) rotate(-90)" font-size="8.8" fill="#111" text-anchor="start" stroke="#111" stroke-width="0.3" textLength="28.29" lengthAdjust="spacingAndGlyphs">Buffer</text>
<text transform="translate(80.32,34.80) rotate(-90)" font-size="8.8" fill="#111" text-anchor="start" stroke="#111" stroke-width="0.3" textLength="17.44" lengthAdjust="spacingAndGlyphs">48R</text>
<text transform="translate(95.44,34.80) rotate(-90)" font-size="8.8" fill="#111" text-anchor="start" stroke="#111" stroke-width="0.3" textLength="17.04" lengthAdjust="spacingAndGlyphs">160</text>
<text transform="translate(110.56,34.80) rotate(-90)" font-size="8.8" fill="#111" text-anchor="start" stroke="#111" stroke-width="0.3" textLength="23.12" lengthAdjust="spacingAndGlyphs">168R</text>
<text transform="translate(125.68,34.80) rotate(-90)" font-size="8.8" fill="#111" text-anchor="start" stroke="#111" stroke-width="0.3" textLength="21.74" lengthAdjust="spacingAndGlyphs">240L</text>
<text transform="translate(140.80,34.80) rotate(-90)" font-size="8.8" fill="#111" text-anchor="start" stroke="#111" stroke-width="0.3" textLength="22.83" lengthAdjust="spacingAndGlyphs">407P</text>
<text transform="translate(155.92,34.80) rotate(-90)" font-size="8.8" fill="#111" text-anchor="start" stroke="#111" stroke-width="0.3" textLength="22.50" lengthAdjust="spacingAndGlyphs">399E</text>
<text transform="translate(171.04,34.80) rotate(-90)" font-size="8.8" fill="#111" text-anchor="start" stroke="#111" stroke-width="0.3" textLength="11.47" lengthAdjust="spacingAndGlyphs">1P</text>
<text transform="translate(186.16,34.80) rotate(-90)" font-size="8.8" fill="#111" text-anchor="start" stroke="#111" stroke-width="0.3" textLength="17.04" lengthAdjust="spacingAndGlyphs">184</text>
<text transform="translate(201.28,34.80) rotate(-90)" font-size="8.8" fill="#111" text-anchor="start" stroke="#111" stroke-width="0.3" textLength="11.36" lengthAdjust="spacingAndGlyphs">97</text>
<text transform="translate(216.40,34.80) rotate(-90)" font-size="8.8" fill="#111" text-anchor="start" stroke="#111" stroke-width="0.3" textLength="17.04" lengthAdjust="spacingAndGlyphs">123</text>
<text transform="translate(231.52,34.80) rotate(-90)" font-size="8.8" fill="#111" text-anchor="start" stroke="#111" stroke-width="0.3" textLength="21.74" lengthAdjust="spacingAndGlyphs">195L</text>
<text transform="translate(246.64,34.80) rotate(-90)" font-size="8.8" fill="#111" text-anchor="start" stroke="#111" stroke-width="0.3" textLength="21.74" lengthAdjust="spacingAndGlyphs">172L</text>
<text transform="translate(261.76,34.80) rotate(-90)" font-size="8.8" fill="#111" text-anchor="start" stroke="#111" stroke-width="0.3" textLength="17.04" lengthAdjust="spacingAndGlyphs">124</text>
<text transform="translate(276.88,34.80) rotate(-90)" font-size="8.8" fill="#111" text-anchor="start" stroke="#111" stroke-width="0.3" textLength="22.83" lengthAdjust="spacingAndGlyphs">676P</text>
<text transform="translate(292.00,34.80) rotate(-90)" font-size="8.8" fill="#111" text-anchor="start" stroke="#111" stroke-width="0.3" textLength="17.15" lengthAdjust="spacingAndGlyphs">42P</text>
<text transform="translate(307.12,34.80) rotate(-90)" font-size="8.8" fill="#111" text-anchor="start" stroke="#111" stroke-width="0.3" textLength="28.50" lengthAdjust="spacingAndGlyphs">1030P</text>
<text transform="translate(322.24,34.80) rotate(-90)" font-size="8.8" fill="#111" text-anchor="start" stroke="#111" stroke-width="0.3" textLength="17.15" lengthAdjust="spacingAndGlyphs">90P</text>
<text transform="translate(337.36,34.80) rotate(-90)" font-size="8.8" fill="#111" text-anchor="start" stroke="#111" stroke-width="0.3" textLength="26.77" lengthAdjust="spacingAndGlyphs">OTP +</text>
<text transform="translate(352.48,34.80) rotate(-90)" font-size="8.8" fill="#111" text-anchor="start" stroke="#111" stroke-width="0.3" textLength="22.36" lengthAdjust="spacingAndGlyphs">TSR8</text>
<text transform="translate(382.20,38.60) rotate(-90)" font-size="8.8" fill="#111" text-anchor="start" stroke="#111" stroke-width="0.3" textLength="28.29" lengthAdjust="spacingAndGlyphs">Buffer</text>
<text transform="translate(397.57,38.60) rotate(-90)" font-size="8.8" fill="#111" text-anchor="start" stroke="#111" stroke-width="0.3" textLength="22.83" lengthAdjust="spacingAndGlyphs">100P</text>
<text transform="translate(412.94,38.60) rotate(-90)" font-size="8.8" fill="#111" text-anchor="start" stroke="#111" stroke-width="0.3" textLength="5.68" lengthAdjust="spacingAndGlyphs">6</text>
<text transform="translate(428.31,38.60) rotate(-90)" font-size="8.8" fill="#111" text-anchor="start" stroke="#111" stroke-width="0.3" textLength="28.97" lengthAdjust="spacingAndGlyphs">245AT</text>
<text transform="translate(443.68,38.60) rotate(-90)" font-size="8.8" fill="#111" text-anchor="start" stroke="#111" stroke-width="0.3" textLength="22.83" lengthAdjust="spacingAndGlyphs">173P</text>
<text transform="translate(459.05,38.60) rotate(-90)" font-size="8.8" fill="#111" text-anchor="start" stroke="#111" stroke-width="0.3" textLength="22.49" lengthAdjust="spacingAndGlyphs">173T</text>
<text transform="translate(474.42,38.60) rotate(-90)" font-size="8.8" fill="#111" text-anchor="start" stroke="#111" stroke-width="0.3" textLength="23.12" lengthAdjust="spacingAndGlyphs">117R</text>
<text transform="translate(489.79,38.60) rotate(-90)" font-size="8.8" fill="#111" text-anchor="start" stroke="#111" stroke-width="0.3" textLength="21.74" lengthAdjust="spacingAndGlyphs">191L</text>
<text transform="translate(505.16,38.60) rotate(-90)" font-size="8.8" fill="#111" text-anchor="start" stroke="#111" stroke-width="0.3" textLength="22.83" lengthAdjust="spacingAndGlyphs">335P</text>
<text transform="translate(520.53,38.60) rotate(-90)" font-size="8.8" fill="#111" text-anchor="start" stroke="#111" stroke-width="0.3" textLength="21.74" lengthAdjust="spacingAndGlyphs">153L</text>
<text transform="translate(535.90,38.60) rotate(-90)" font-size="8.8" fill="#111" text-anchor="start" stroke="#111" stroke-width="0.3" textLength="22.83" lengthAdjust="spacingAndGlyphs">639P</text>
<text transform="translate(551.27,38.60) rotate(-90)" font-size="8.8" fill="#111" text-anchor="start" stroke="#111" stroke-width="0.3" textLength="21.74" lengthAdjust="spacingAndGlyphs">122L</text>
<text transform="translate(566.64,38.60) rotate(-90)" font-size="8.8" fill="#111" text-anchor="start" stroke="#111" stroke-width="0.3" textLength="22.83" lengthAdjust="spacingAndGlyphs">881P</text>
<text transform="translate(582.01,38.60) rotate(-90)" font-size="8.8" fill="#111" text-anchor="start" stroke="#111" stroke-width="0.3" textLength="22.83" lengthAdjust="spacingAndGlyphs">353P</text>
<text transform="translate(597.38,38.60) rotate(-90)" font-size="8.8" fill="#111" text-anchor="start" stroke="#111" stroke-width="0.3" textLength="28.58" lengthAdjust="spacingAndGlyphs">429ER</text>
<text transform="translate(612.75,38.60) rotate(-90)" font-size="8.8" fill="#111" text-anchor="start" stroke="#111" stroke-width="0.3" textLength="22.83" lengthAdjust="spacingAndGlyphs">464P</text>
<text transform="translate(628.12,38.60) rotate(-90)" font-size="8.8" fill="#111" text-anchor="start" stroke="#111" stroke-width="0.3" textLength="22.83" lengthAdjust="spacingAndGlyphs">451P</text>
<text transform="translate(643.49,38.60) rotate(-90)" font-size="8.8" fill="#111" text-anchor="start" stroke="#111" stroke-width="0.3" textLength="22.83" lengthAdjust="spacingAndGlyphs">805P</text>
<text transform="translate(658.86,38.60) rotate(-90)" font-size="8.8" fill="#111" text-anchor="start" stroke="#111" stroke-width="0.3" textLength="26.77" lengthAdjust="spacingAndGlyphs">OTP +</text>
<text transform="translate(674.23,38.60) rotate(-90)" font-size="8.8" fill="#111" text-anchor="start" stroke="#111" stroke-width="0.3" textLength="22.36" lengthAdjust="spacingAndGlyphs">TSR8</text>
<g stroke="#444" stroke-width="1" fill="none" shape-rendering="crispEdges">
<rect x="8.5" y="249.5" width="349.0" height="36.0"/>
<line x1="8.5" y1="266.5" x2="357.5" y2="266.5"/>
<line x1="59.5" y1="249.5" x2="59.5" y2="285.5"/>
<line x1="74.5" y1="249.5" x2="74.5" y2="285.5"/>
<line x1="89.5" y1="249.5" x2="89.5" y2="285.5"/>
<line x1="104.0" y1="249.5" x2="104.0" y2="285.5"/>
<line x1="119.0" y1="249.5" x2="119.0" y2="285.5"/>
<line x1="134.0" y1="249.5" x2="134.0" y2="285.5"/>
<line x1="149.0" y1="249.5" x2="149.0" y2="285.5"/>
<line x1="164.0" y1="249.5" x2="164.0" y2="285.5"/>
<line x1="178.5" y1="249.5" x2="178.5" y2="285.5"/>
<line x1="193.5" y1="249.5" x2="193.5" y2="285.5"/>
<line x1="208.5" y1="249.5" x2="208.5" y2="285.5"/>
<line x1="223.5" y1="249.5" x2="223.5" y2="285.5"/>
<line x1="238.5" y1="249.5" x2="238.5" y2="285.5"/>
<line x1="253.0" y1="249.5" x2="253.0" y2="285.5"/>
<line x1="268.0" y1="249.5" x2="268.0" y2="285.5"/>
<line x1="283.0" y1="249.5" x2="283.0" y2="285.5"/>
<line x1="298.0" y1="249.5" x2="298.0" y2="285.5"/>
<line x1="313.0" y1="249.5" x2="313.0" y2="285.5"/>
<line x1="327.5" y1="249.5" x2="327.5" y2="285.5"/>
<line x1="342.5" y1="249.5" x2="342.5" y2="285.5"/>
</g>
<text x="88.60" y="264.70" font-size="9.3" fill="#111" text-anchor="end" textLength="9.9" lengthAdjust="spacingAndGlyphs">16</text>
<text x="84.10" y="282.20" font-size="12.5" fill="#111" text-anchor="middle" stroke="#111" stroke-width="0.25">+</text>
<text x="103.10" y="264.70" font-size="9.3" fill="#111" text-anchor="end" textLength="9.9" lengthAdjust="spacingAndGlyphs">16</text>
<text x="98.85" y="282.20" font-size="12.5" fill="#111" text-anchor="middle" stroke="#111" stroke-width="0.25">+</text>
<text x="118.10" y="264.70" font-size="9.3" fill="#111" text-anchor="end" textLength="9.9" lengthAdjust="spacingAndGlyphs">19</text>
<text x="133.10" y="264.70" font-size="9.3" fill="#111" text-anchor="end" textLength="9.9" lengthAdjust="spacingAndGlyphs">19</text>
<text x="128.60" y="282.20" font-size="12.5" fill="#111" text-anchor="middle" stroke="#111" stroke-width="0.25">+</text>
<text x="148.10" y="264.70" font-size="9.3" fill="#111" text-anchor="end" textLength="9.9" lengthAdjust="spacingAndGlyphs">19</text>
<text x="163.10" y="264.70" font-size="9.3" fill="#111" text-anchor="end" textLength="9.9" lengthAdjust="spacingAndGlyphs">20</text>
<text x="158.60" y="282.20" font-size="12.5" fill="#111" text-anchor="middle" stroke="#111" stroke-width="0.25">+</text>
<text x="177.60" y="264.70" font-size="9.3" fill="#111" text-anchor="end" textLength="9.9" lengthAdjust="spacingAndGlyphs">24</text>
<text x="192.60" y="264.70" font-size="9.3" fill="#111" text-anchor="end" textLength="9.9" lengthAdjust="spacingAndGlyphs">24</text>
<text x="188.10" y="282.20" font-size="12.5" fill="#111" text-anchor="middle" stroke="#111" stroke-width="0.25">+</text>
<text x="207.60" y="264.70" font-size="9.3" fill="#111" text-anchor="end" textLength="9.9" lengthAdjust="spacingAndGlyphs">27</text>
<text x="203.10" y="282.20" font-size="12.5" fill="#111" text-anchor="middle" stroke="#111" stroke-width="0.25">+</text>
<text x="222.60" y="264.70" font-size="9.3" fill="#111" text-anchor="end" textLength="9.9" lengthAdjust="spacingAndGlyphs">27</text>
<text x="218.10" y="282.20" font-size="12.5" fill="#111" text-anchor="middle" stroke="#111" stroke-width="0.25">+</text>
<text x="237.60" y="264.70" font-size="9.3" fill="#111" text-anchor="end" textLength="9.9" lengthAdjust="spacingAndGlyphs">27</text>
<text x="252.10" y="264.70" font-size="9.3" fill="#111" text-anchor="end" textLength="9.9" lengthAdjust="spacingAndGlyphs">28</text>
<text x="247.85" y="282.20" font-size="12.5" fill="#111" text-anchor="middle" stroke="#111" stroke-width="0.25">+</text>
<text x="267.10" y="264.70" font-size="9.3" fill="#111" text-anchor="end" textLength="9.9" lengthAdjust="spacingAndGlyphs">29</text>
<text x="262.60" y="282.20" font-size="12.5" fill="#111" text-anchor="middle" stroke="#111" stroke-width="0.25">+</text>
<text x="282.10" y="264.70" font-size="9.3" fill="#111" text-anchor="end" textLength="9.9" lengthAdjust="spacingAndGlyphs">29</text>
<text x="297.10" y="264.70" font-size="9.3" fill="#111" text-anchor="end" textLength="9.9" lengthAdjust="spacingAndGlyphs">30</text>
<text x="312.10" y="264.70" font-size="9.3" fill="#111" text-anchor="end" textLength="9.9" lengthAdjust="spacingAndGlyphs">30</text>
<text x="326.60" y="264.70" font-size="9.3" fill="#111" text-anchor="end" textLength="9.9" lengthAdjust="spacingAndGlyphs">36</text>
<text x="337.10" y="282.20" font-size="12.5" fill="#111" text-anchor="middle" stroke="#111" stroke-width="0.25">+</text>
<text x="352.10" y="282.20" font-size="12.5" fill="#111" text-anchor="middle" stroke="#111" stroke-width="0.25">+</text>
<text x="11.80" y="265.00" font-size="12" fill="#111" text-anchor="start" textLength="37.6" lengthAdjust="spacingAndGlyphs">Age (y)</text>
<text x="11.80" y="282.60" font-size="12" fill="#111" text-anchor="start" textLength="35.2" lengthAdjust="spacingAndGlyphs">TRAP+</text>
<g stroke="#444" stroke-width="1" fill="none" shape-rendering="crispEdges">
<rect x="374.5" y="252.5" width="297.0" height="32.30000000000001"/>
<line x1="374.5" y1="266.5" x2="671.5" y2="266.5"/>
<line x1="389.0" y1="252.5" x2="389.0" y2="284.8"/>
<line x1="404.0" y1="252.5" x2="404.0" y2="284.8"/>
<line x1="418.5" y1="252.5" x2="418.5" y2="284.8"/>
<line x1="433.5" y1="252.5" x2="433.5" y2="284.8"/>
<line x1="448.5" y1="252.5" x2="448.5" y2="284.8"/>
<line x1="463.5" y1="252.5" x2="463.5" y2="284.8"/>
<line x1="478.0" y1="252.5" x2="478.0" y2="284.8"/>
<line x1="493.0" y1="252.5" x2="493.0" y2="284.8"/>
<line x1="508.0" y1="252.5" x2="508.0" y2="284.8"/>
<line x1="523.0" y1="252.5" x2="523.0" y2="284.8"/>
<line x1="537.5" y1="252.5" x2="537.5" y2="284.8"/>
<line x1="552.5" y1="252.5" x2="552.5" y2="284.8"/>
<line x1="567.5" y1="252.5" x2="567.5" y2="284.8"/>
<line x1="582.5" y1="252.5" x2="582.5" y2="284.8"/>
<line x1="597.0" y1="252.5" x2="597.0" y2="284.8"/>
<line x1="612.0" y1="252.5" x2="612.0" y2="284.8"/>
<line x1="627.0" y1="252.5" x2="627.0" y2="284.8"/>
<line x1="642.0" y1="252.5" x2="642.0" y2="284.8"/>
<line x1="656.5" y1="252.5" x2="656.5" y2="284.8"/>
</g>
<text x="403.10" y="264.70" font-size="10.2" fill="#111" text-anchor="end" textLength="10.2" lengthAdjust="spacingAndGlyphs">39</text>
<text x="417.60" y="264.70" font-size="10.2" fill="#111" text-anchor="end" textLength="10.2" lengthAdjust="spacingAndGlyphs">40</text>
<text x="432.60" y="264.70" font-size="10.2" fill="#111" text-anchor="end" textLength="10.2" lengthAdjust="spacingAndGlyphs">41</text>
<text x="447.60" y="264.70" font-size="10.2" fill="#111" text-anchor="end" textLength="10.2" lengthAdjust="spacingAndGlyphs">45</text>
<text x="443.10" y="282.50" font-size="12.5" fill="#111" text-anchor="middle" stroke="#111" stroke-width="0.25">+</text>
<text x="456.80" y="264.90" font-size="8.8" fill="#111" text-anchor="middle" textLength="10.6" lengthAdjust="spacingAndGlyphs">NA</text>
<text x="457.20" y="282.20" font-size="7.4" fill="#111" text-anchor="middle" textLength="9.2" lengthAdjust="spacingAndGlyphs">NA</text>
<text x="477.10" y="264.70" font-size="10.2" fill="#111" text-anchor="end" textLength="10.2" lengthAdjust="spacingAndGlyphs">56</text>
<text x="492.10" y="264.70" font-size="10.2" fill="#111" text-anchor="end" textLength="10.2" lengthAdjust="spacingAndGlyphs">56</text>
<text x="507.10" y="264.70" font-size="10.2" fill="#111" text-anchor="end" textLength="10.2" lengthAdjust="spacingAndGlyphs">58</text>
<text x="522.10" y="264.70" font-size="10.2" fill="#111" text-anchor="end" textLength="10.2" lengthAdjust="spacingAndGlyphs">60</text>
<text x="517.60" y="282.50" font-size="12.5" fill="#111" text-anchor="middle" stroke="#111" stroke-width="0.25">+</text>
<text x="536.60" y="264.70" font-size="10.2" fill="#111" text-anchor="end" textLength="10.2" lengthAdjust="spacingAndGlyphs">60</text>
<text x="551.60" y="264.70" font-size="10.2" fill="#111" text-anchor="end" textLength="10.2" lengthAdjust="spacingAndGlyphs">62</text>
<text x="566.60" y="264.70" font-size="10.2" fill="#111" text-anchor="end" textLength="10.2" lengthAdjust="spacingAndGlyphs">65</text>
<text x="581.60" y="264.70" font-size="10.2" fill="#111" text-anchor="end" textLength="10.2" lengthAdjust="spacingAndGlyphs">72</text>
<text x="596.10" y="264.70" font-size="10.2" fill="#111" text-anchor="end" textLength="10.2" lengthAdjust="spacingAndGlyphs">72</text>
<text x="611.10" y="264.70" font-size="10.2" fill="#111" text-anchor="end" textLength="10.2" lengthAdjust="spacingAndGlyphs">80</text>
<text x="626.10" y="264.70" font-size="10.2" fill="#111" text-anchor="end" textLength="10.2" lengthAdjust="spacingAndGlyphs">83</text>
<text x="641.10" y="264.70" font-size="10.2" fill="#111" text-anchor="end" textLength="10.2" lengthAdjust="spacingAndGlyphs">91</text>
<text x="651.35" y="282.50" font-size="12.5" fill="#111" text-anchor="middle" stroke="#111" stroke-width="0.25">+</text>
<text x="666.10" y="282.50" font-size="12.5" fill="#111" text-anchor="middle" stroke="#111" stroke-width="0.25">+</text>
<g stroke="#000" stroke-width="1.6" fill="none">
<line x1="80.00" y1="315.02" x2="80.00" y2="425.00"/>
<line x1="79.20" y1="425.00" x2="243.50" y2="425.00"/>
<line x1="75.80" y1="425.00" x2="80.00" y2="425.00"/>
<line x1="75.80" y1="388.34" x2="80.00" y2="388.34"/>
<line x1="75.80" y1="351.68" x2="80.00" y2="351.68"/>
<line x1="75.80" y1="315.02" x2="80.00" y2="315.02"/>
<line x1="88.60" y1="425.00" x2="88.60" y2="429.60"/>
<line x1="106.88" y1="425.00" x2="106.88" y2="429.60"/>
<line x1="125.15" y1="425.00" x2="125.15" y2="429.60"/>
<line x1="143.43" y1="425.00" x2="143.43" y2="429.60"/>
<line x1="161.70" y1="425.00" x2="161.70" y2="429.60"/>
<line x1="179.98" y1="425.00" x2="179.98" y2="429.60"/>
<line x1="198.25" y1="425.00" x2="198.25" y2="429.60"/>
<line x1="216.53" y1="425.00" x2="216.53" y2="429.60"/>
<line x1="234.80" y1="425.00" x2="234.80" y2="429.60"/>
</g>
<rect x="98.28" y="333.35" width="17.20" height="91.65" fill="#fff" stroke="#000" stroke-width="1.5"/>
<rect x="116.55" y="351.68" width="17.20" height="73.32" fill="#fff" stroke="#000" stroke-width="1.5"/>
<rect x="153.10" y="388.34" width="17.20" height="36.66" fill="#fff" stroke="#000" stroke-width="1.5"/>
<rect x="171.38" y="406.67" width="17.20" height="18.33" fill="#fff" stroke="#000" stroke-width="1.5"/>
<text x="75.50" y="428.10" font-size="8.5" fill="#222" text-anchor="end" >0</text>
<text x="75.50" y="391.44" font-size="8.5" fill="#222" text-anchor="end" >2</text>
<text x="75.50" y="354.78" font-size="8.5" fill="#222" text-anchor="end" >4</text>
<text x="75.50" y="318.12" font-size="8.5" fill="#222" text-anchor="end" >6</text>
<text transform="translate(90.80,435.00) rotate(-45)" font-size="8.5" fill="#222" text-anchor="end" >10</text>
<text transform="translate(109.08,435.00) rotate(-45)" font-size="8.5" fill="#222" text-anchor="end" >20</text>
<text transform="translate(127.35,435.00) rotate(-45)" font-size="8.5" fill="#222" text-anchor="end" >30</text>
<text transform="translate(145.62,435.00) rotate(-45)" font-size="8.5" fill="#222" text-anchor="end" >40</text>
<text transform="translate(163.90,435.00) rotate(-45)" font-size="8.5" fill="#222" text-anchor="end" >50</text>
<text transform="translate(182.18,435.00) rotate(-45)" font-size="8.5" fill="#222" text-anchor="end" >60</text>
<text transform="translate(200.45,435.00) rotate(-45)" font-size="8.5" fill="#222" text-anchor="end" >70</text>
<text transform="translate(218.73,435.00) rotate(-45)" font-size="8.5" fill="#222" text-anchor="end" >80</text>
<text transform="translate(237.00,435.00) rotate(-45)" font-size="8.5" fill="#222" text-anchor="end" >90</text>
<g stroke="#000" stroke-width="1.6" fill="none">
<line x1="80.00" y1="443.98" x2="80.00" y2="553.60"/>
<line x1="79.20" y1="553.60" x2="243.50" y2="553.60"/>
<line x1="75.80" y1="553.60" x2="80.00" y2="553.60"/>
<line x1="75.80" y1="517.06" x2="80.00" y2="517.06"/>
<line x1="75.80" y1="480.52" x2="80.00" y2="480.52"/>
<line x1="75.80" y1="443.98" x2="80.00" y2="443.98"/>
<line x1="88.60" y1="553.60" x2="88.60" y2="558.20"/>
<line x1="106.88" y1="553.60" x2="106.88" y2="558.20"/>
<line x1="125.15" y1="553.60" x2="125.15" y2="558.20"/>
<line x1="143.43" y1="553.60" x2="143.43" y2="558.20"/>
<line x1="161.70" y1="553.60" x2="161.70" y2="558.20"/>
<line x1="179.98" y1="553.60" x2="179.98" y2="558.20"/>
<line x1="198.25" y1="553.60" x2="198.25" y2="558.20"/>
<line x1="216.53" y1="553.60" x2="216.53" y2="558.20"/>
<line x1="234.80" y1="553.60" x2="234.80" y2="558.20"/>
</g>
<rect x="98.28" y="498.79" width="17.20" height="54.81" fill="#333" stroke="#000" stroke-width="1.5"/>
<rect x="116.55" y="480.52" width="17.20" height="73.08" fill="#333" stroke="#000" stroke-width="1.5"/>
<rect x="134.83" y="480.52" width="17.20" height="73.08" fill="#333" stroke="#000" stroke-width="1.5"/>
<rect x="171.38" y="480.52" width="17.20" height="73.08" fill="#333" stroke="#000" stroke-width="1.5"/>
<rect x="189.65" y="498.79" width="17.20" height="54.81" fill="#333" stroke="#000" stroke-width="1.5"/>
<rect x="207.93" y="517.06" width="17.20" height="36.54" fill="#333" stroke="#000" stroke-width="1.5"/>
<rect x="226.20" y="535.33" width="17.20" height="18.27" fill="#333" stroke="#000" stroke-width="1.5"/>
<text x="75.50" y="556.70" font-size="8.5" fill="#222" text-anchor="end" >0</text>
<text x="75.50" y="520.16" font-size="8.5" fill="#222" text-anchor="end" >2</text>
<text x="75.50" y="483.62" font-size="8.5" fill="#222" text-anchor="end" >4</text>
<text x="75.50" y="447.08" font-size="8.5" fill="#222" text-anchor="end" >6</text>
<text transform="translate(90.80,563.60) rotate(-45)" font-size="8.5" fill="#222" text-anchor="end" >10</text>
<text transform="translate(109.08,563.60) rotate(-45)" font-size="8.5" fill="#222" text-anchor="end" >20</text>
<text transform="translate(127.35,563.60) rotate(-45)" font-size="8.5" fill="#222" text-anchor="end" >30</text>
<text transform="translate(145.62,563.60) rotate(-45)" font-size="8.5" fill="#222" text-anchor="end" >40</text>
<text transform="translate(163.90,563.60) rotate(-45)" font-size="8.5" fill="#222" text-anchor="end" >50</text>
<text transform="translate(182.18,563.60) rotate(-45)" font-size="8.5" fill="#222" text-anchor="end" >60</text>
<text transform="translate(200.45,563.60) rotate(-45)" font-size="8.5" fill="#222" text-anchor="end" >70</text>
<text transform="translate(218.73,563.60) rotate(-45)" font-size="8.5" fill="#222" text-anchor="end" >80</text>
<text transform="translate(237.00,563.60) rotate(-45)" font-size="8.5" fill="#222" text-anchor="end" >90</text>
<g stroke="#000" stroke-width="1.6" fill="none">
<line x1="279.40" y1="320.30" x2="279.40" y2="427.00"/>
<line x1="278.60" y1="427.00" x2="440.00" y2="427.00"/>
<line x1="275.20" y1="427.00" x2="279.40" y2="427.00"/>
<line x1="275.20" y1="405.66" x2="279.40" y2="405.66"/>
<line x1="275.20" y1="384.32" x2="279.40" y2="384.32"/>
<line x1="275.20" y1="362.98" x2="279.40" y2="362.98"/>
<line x1="275.20" y1="341.64" x2="279.40" y2="341.64"/>
<line x1="275.20" y1="320.30" x2="279.40" y2="320.30"/>
<line x1="288.00" y1="427.00" x2="288.00" y2="431.60"/>
<line x1="305.80" y1="427.00" x2="305.80" y2="431.60"/>
<line x1="323.60" y1="427.00" x2="323.60" y2="431.60"/>
<line x1="341.40" y1="427.00" x2="341.40" y2="431.60"/>
<line x1="359.20" y1="427.00" x2="359.20" y2="431.60"/>
<line x1="377.00" y1="427.00" x2="377.00" y2="431.60"/>
<line x1="394.80" y1="427.00" x2="394.80" y2="431.60"/>
<line x1="412.60" y1="427.00" x2="412.60" y2="431.60"/>
<line x1="430.40" y1="427.00" x2="430.40" y2="431.60"/>
</g>
<rect x="317.40" y="405.66" width="12.40" height="21.34" fill="#fff" stroke="#000" stroke-width="1.5"/>
<rect x="335.20" y="362.98" width="12.40" height="64.02" fill="#fff" stroke="#000" stroke-width="1.5"/>
<rect x="353.00" y="394.99" width="12.40" height="32.01" fill="#fff" stroke="#000" stroke-width="1.5"/>
<rect x="388.60" y="416.33" width="12.40" height="10.67" fill="#fff" stroke="#000" stroke-width="1.5"/>
<text x="274.90" y="430.10" font-size="8.5" fill="#222" text-anchor="end" >0</text>
<text x="274.90" y="408.76" font-size="8.5" fill="#222" text-anchor="end" >2</text>
<text x="274.90" y="387.42" font-size="8.5" fill="#222" text-anchor="end" >4</text>
<text x="274.90" y="366.08" font-size="8.5" fill="#222" text-anchor="end" >6</text>
<text x="274.90" y="344.74" font-size="8.5" fill="#222" text-anchor="end" >8</text>
<text x="274.90" y="323.40" font-size="8.5" fill="#222" text-anchor="end" >10</text>
<text transform="translate(290.20,437.00) rotate(-45)" font-size="8.5" fill="#222" text-anchor="end" >0.4</text>
<text transform="translate(308.00,437.00) rotate(-45)" font-size="8.5" fill="#222" text-anchor="end" >0.6</text>
<text transform="translate(325.80,437.00) rotate(-45)" font-size="8.5" fill="#222" text-anchor="end" >0.8</text>
<text transform="translate(343.60,437.00) rotate(-45)" font-size="8.5" fill="#222" text-anchor="end" >1.0</text>
<text transform="translate(361.40,437.00) rotate(-45)" font-size="8.5" fill="#222" text-anchor="end" >1.2</text>
<text transform="translate(379.20,437.00) rotate(-45)" font-size="8.5" fill="#222" text-anchor="end" >1.4</text>
<text transform="translate(397.00,437.00) rotate(-45)" font-size="8.5" fill="#222" text-anchor="end" >1.6</text>
<text transform="translate(414.80,437.00) rotate(-45)" font-size="8.5" fill="#222" text-anchor="end" >1.8</text>
<text transform="translate(432.60,437.00) rotate(-45)" font-size="8.5" fill="#222" text-anchor="end" >2.0</text>
<g stroke="#000" stroke-width="1.6" fill="none">
<line x1="280.30" y1="443.00" x2="280.30" y2="553.00"/>
<line x1="279.50" y1="553.00" x2="445.00" y2="553.00"/>
<line x1="276.10" y1="553.00" x2="280.30" y2="553.00"/>
<line x1="276.10" y1="531.00" x2="280.30" y2="531.00"/>
<line x1="276.10" y1="509.00" x2="280.30" y2="509.00"/>
<line x1="276.10" y1="487.00" x2="280.30" y2="487.00"/>
<line x1="276.10" y1="465.00" x2="280.30" y2="465.00"/>
<line x1="276.10" y1="443.00" x2="280.30" y2="443.00"/>
<line x1="289.40" y1="553.00" x2="289.40" y2="557.60"/>
<line x1="307.60" y1="553.00" x2="307.60" y2="557.60"/>
<line x1="325.80" y1="553.00" x2="325.80" y2="557.60"/>
<line x1="344.00" y1="553.00" x2="344.00" y2="557.60"/>
<line x1="362.20" y1="553.00" x2="362.20" y2="557.60"/>
<line x1="380.40" y1="553.00" x2="380.40" y2="557.60"/>
<line x1="398.60" y1="553.00" x2="398.60" y2="557.60"/>
<line x1="416.80" y1="553.00" x2="416.80" y2="557.60"/>
<line x1="435.00" y1="553.00" x2="435.00" y2="557.60"/>
</g>
<rect x="282.90" y="542.00" width="13.00" height="11.00" fill="#333" stroke="#000" stroke-width="1.5"/>
<rect x="301.10" y="520.00" width="13.00" height="33.00" fill="#333" stroke="#000" stroke-width="1.5"/>
<rect x="319.30" y="509.00" width="13.00" height="44.00" fill="#333" stroke="#000" stroke-width="1.5"/>
<rect x="337.50" y="465.00" width="13.00" height="88.00" fill="#333" stroke="#000" stroke-width="1.5"/>
<rect x="355.70" y="498.00" width="13.00" height="55.00" fill="#333" stroke="#000" stroke-width="1.5"/>
<rect x="428.50" y="542.00" width="13.00" height="11.00" fill="#333" stroke="#000" stroke-width="1.5"/>
<text x="275.80" y="556.10" font-size="8.5" fill="#222" text-anchor="end" >0</text>
<text x="275.80" y="534.10" font-size="8.5" fill="#222" text-anchor="end" >2</text>
<text x="275.80" y="512.10" font-size="8.5" fill="#222" text-anchor="end" >4</text>
<text x="275.80" y="490.10" font-size="8.5" fill="#222" text-anchor="end" >6</text>
<text x="275.80" y="468.10" font-size="8.5" fill="#222" text-anchor="end" >8</text>
<text x="275.80" y="446.10" font-size="8.5" fill="#222" text-anchor="end" >10</text>
<text transform="translate(291.60,563.00) rotate(-45)" font-size="8.5" fill="#222" text-anchor="end" >0.4</text>
<text transform="translate(309.80,563.00) rotate(-45)" font-size="8.5" fill="#222" text-anchor="end" >0.6</text>
<text transform="translate(328.00,563.00) rotate(-45)" font-size="8.5" fill="#222" text-anchor="end" >0.8</text>
<text transform="translate(346.20,563.00) rotate(-45)" font-size="8.5" fill="#222" text-anchor="end" >1.0</text>
<text transform="translate(364.40,563.00) rotate(-45)" font-size="8.5" fill="#222" text-anchor="end" >1.2</text>
<text transform="translate(382.60,563.00) rotate(-45)" font-size="8.5" fill="#222" text-anchor="end" >1.4</text>
<text transform="translate(400.80,563.00) rotate(-45)" font-size="8.5" fill="#222" text-anchor="end" >1.6</text>
<text transform="translate(419.00,563.00) rotate(-45)" font-size="8.5" fill="#222" text-anchor="end" >1.8</text>
<text transform="translate(437.20,563.00) rotate(-45)" font-size="8.5" fill="#222" text-anchor="end" >2.0</text>
<g stroke="#000" stroke-width="1.6" fill="none">
<line x1="479.20" y1="316.30" x2="479.20" y2="427.60"/>
<line x1="478.40" y1="427.60" x2="647.00" y2="427.60"/>
<line x1="475.00" y1="427.60" x2="479.20" y2="427.60"/>
<line x1="475.00" y1="405.34" x2="479.20" y2="405.34"/>
<line x1="475.00" y1="383.08" x2="479.20" y2="383.08"/>
<line x1="475.00" y1="360.82" x2="479.20" y2="360.82"/>
<line x1="475.00" y1="338.56" x2="479.20" y2="338.56"/>
<line x1="475.00" y1="316.30" x2="479.20" y2="316.30"/>
<line x1="488.00" y1="427.60" x2="488.00" y2="432.20"/>
<line x1="504.71" y1="427.60" x2="504.71" y2="432.20"/>
<line x1="521.42" y1="427.60" x2="521.42" y2="432.20"/>
<line x1="538.13" y1="427.60" x2="538.13" y2="432.20"/>
<line x1="554.84" y1="427.60" x2="554.84" y2="432.20"/>
<line x1="571.56" y1="427.60" x2="571.56" y2="432.20"/>
<line x1="588.27" y1="427.60" x2="588.27" y2="432.20"/>
<line x1="604.98" y1="427.60" x2="604.98" y2="432.20"/>
<line x1="621.69" y1="427.60" x2="621.69" y2="432.20"/>
<line x1="638.40" y1="427.60" x2="638.40" y2="432.20"/>
</g>
<rect x="515.42" y="383.08" width="12.00" height="44.52" fill="#fff" stroke="#000" stroke-width="1.5"/>
<rect x="532.13" y="360.82" width="12.00" height="66.78" fill="#fff" stroke="#000" stroke-width="1.5"/>
<rect x="548.84" y="338.56" width="12.00" height="89.04" fill="#fff" stroke="#000" stroke-width="1.5"/>
<rect x="565.56" y="405.34" width="12.00" height="22.26" fill="#fff" stroke="#000" stroke-width="1.5"/>
<rect x="598.98" y="405.34" width="12.00" height="22.26" fill="#fff" stroke="#000" stroke-width="1.5"/>
<rect x="615.69" y="405.34" width="12.00" height="22.26" fill="#fff" stroke="#000" stroke-width="1.5"/>
<text x="474.70" y="430.70" font-size="8.5" fill="#222" text-anchor="end" >0</text>
<text x="474.70" y="408.44" font-size="8.5" fill="#222" text-anchor="end" >1</text>
<text x="474.70" y="386.18" font-size="8.5" fill="#222" text-anchor="end" >2</text>
<text x="474.70" y="363.92" font-size="8.5" fill="#222" text-anchor="end" >3</text>
<text x="474.70" y="341.66" font-size="8.5" fill="#222" text-anchor="end" >4</text>
<text x="474.70" y="319.40" font-size="8.5" fill="#222" text-anchor="end" >5</text>
<text transform="translate(490.20,437.60) rotate(-45)" font-size="8.5" fill="#222" text-anchor="end" >5</text>
<text transform="translate(506.91,437.60) rotate(-45)" font-size="8.5" fill="#222" text-anchor="end" >10</text>
<text transform="translate(523.62,437.60) rotate(-45)" font-size="8.5" fill="#222" text-anchor="end" >15</text>
<text transform="translate(540.33,437.60) rotate(-45)" font-size="8.5" fill="#222" text-anchor="end" >20</text>
<text transform="translate(557.04,437.60) rotate(-45)" font-size="8.5" fill="#222" text-anchor="end" >25</text>
<text transform="translate(573.76,437.60) rotate(-45)" font-size="8.5" fill="#222" text-anchor="end" >30</text>
<text transform="translate(590.47,437.60) rotate(-45)" font-size="8.5" fill="#222" text-anchor="end" >35</text>
<text transform="translate(607.18,437.60) rotate(-45)" font-size="8.5" fill="#222" text-anchor="end" >40</text>
<text transform="translate(623.89,437.60) rotate(-45)" font-size="8.5" fill="#222" text-anchor="end" >45</text>
<text transform="translate(640.60,437.60) rotate(-45)" font-size="8.5" fill="#222" text-anchor="end" >50</text>
<g stroke="#000" stroke-width="1.6" fill="none">
<line x1="480.00" y1="441.60" x2="480.00" y2="553.60"/>
<line x1="479.20" y1="553.60" x2="647.00" y2="553.60"/>
<line x1="475.80" y1="553.60" x2="480.00" y2="553.60"/>
<line x1="475.80" y1="525.60" x2="480.00" y2="525.60"/>
<line x1="475.80" y1="497.60" x2="480.00" y2="497.60"/>
<line x1="475.80" y1="469.60" x2="480.00" y2="469.60"/>
<line x1="475.80" y1="441.60" x2="480.00" y2="441.60"/>
<line x1="488.00" y1="553.60" x2="488.00" y2="558.20"/>
<line x1="504.71" y1="553.60" x2="504.71" y2="558.20"/>
<line x1="521.42" y1="553.60" x2="521.42" y2="558.20"/>
<line x1="538.13" y1="553.60" x2="538.13" y2="558.20"/>
<line x1="554.84" y1="553.60" x2="554.84" y2="558.20"/>
<line x1="571.56" y1="553.60" x2="571.56" y2="558.20"/>
<line x1="588.27" y1="553.60" x2="588.27" y2="558.20"/>
<line x1="604.98" y1="553.60" x2="604.98" y2="558.20"/>
<line x1="621.69" y1="553.60" x2="621.69" y2="558.20"/>
<line x1="638.40" y1="553.60" x2="638.40" y2="558.20"/>
</g>
<rect x="498.71" y="539.60" width="12.00" height="14.00" fill="#333" stroke="#000" stroke-width="1.5"/>
<rect x="515.42" y="525.60" width="12.00" height="28.00" fill="#333" stroke="#000" stroke-width="1.5"/>
<rect x="532.13" y="469.60" width="12.00" height="84.00" fill="#333" stroke="#000" stroke-width="1.5"/>
<rect x="548.84" y="539.60" width="12.00" height="14.00" fill="#333" stroke="#000" stroke-width="1.5"/>
<rect x="565.56" y="497.60" width="12.00" height="56.00" fill="#333" stroke="#000" stroke-width="1.5"/>
<rect x="598.98" y="539.60" width="12.00" height="14.00" fill="#333" stroke="#000" stroke-width="1.5"/>
<rect x="615.69" y="539.60" width="12.00" height="14.00" fill="#333" stroke="#000" stroke-width="1.5"/>
<text x="475.50" y="556.70" font-size="8.5" fill="#222" text-anchor="end" >0</text>
<text x="475.50" y="528.70" font-size="8.5" fill="#222" text-anchor="end" >2</text>
<text x="475.50" y="500.70" font-size="8.5" fill="#222" text-anchor="end" >4</text>
<text x="475.50" y="472.70" font-size="8.5" fill="#222" text-anchor="end" >6</text>
<text x="475.50" y="444.70" font-size="8.5" fill="#222" text-anchor="end" >8</text>
<text transform="translate(490.20,563.60) rotate(-45)" font-size="8.5" fill="#222" text-anchor="end" >5</text>
<text transform="translate(506.91,563.60) rotate(-45)" font-size="8.5" fill="#222" text-anchor="end" >10</text>
<text transform="translate(523.62,563.60) rotate(-45)" font-size="8.5" fill="#222" text-anchor="end" >15</text>
<text transform="translate(540.33,563.60) rotate(-45)" font-size="8.5" fill="#222" text-anchor="end" >20</text>
<text transform="translate(557.04,563.60) rotate(-45)" font-size="8.5" fill="#222" text-anchor="end" >25</text>
<text transform="translate(573.76,563.60) rotate(-45)" font-size="8.5" fill="#222" text-anchor="end" >30</text>
<text transform="translate(590.47,563.60) rotate(-45)" font-size="8.5" fill="#222" text-anchor="end" >35</text>
<text transform="translate(607.18,563.60) rotate(-45)" font-size="8.5" fill="#222" text-anchor="end" >40</text>
<text transform="translate(623.89,563.60) rotate(-45)" font-size="8.5" fill="#222" text-anchor="end" >45</text>
<text transform="translate(640.60,563.60) rotate(-45)" font-size="8.5" fill="#222" text-anchor="end" >50</text>
<g stroke="#000" stroke-width="1.6" fill="none">
<line x1="82.50" y1="623.12" x2="82.50" y2="734.00"/>
<line x1="81.70" y1="734.00" x2="249.00" y2="734.00"/>
<line x1="78.30" y1="734.00" x2="82.50" y2="734.00"/>
<line x1="78.30" y1="706.28" x2="82.50" y2="706.28"/>
<line x1="78.30" y1="678.56" x2="82.50" y2="678.56"/>
<line x1="78.30" y1="650.84" x2="82.50" y2="650.84"/>
<line x1="78.30" y1="623.12" x2="82.50" y2="623.12"/>
<line x1="91.00" y1="734.00" x2="91.00" y2="738.60"/>
<line x1="107.70" y1="734.00" x2="107.70" y2="738.60"/>
<line x1="124.40" y1="734.00" x2="124.40" y2="738.60"/>
<line x1="141.10" y1="734.00" x2="141.10" y2="738.60"/>
<line x1="157.80" y1="734.00" x2="157.80" y2="738.60"/>
<line x1="174.50" y1="734.00" x2="174.50" y2="738.60"/>
<line x1="191.20" y1="734.00" x2="191.20" y2="738.60"/>
<line x1="207.90" y1="734.00" x2="207.90" y2="738.60"/>
<line x1="224.60" y1="734.00" x2="224.60" y2="738.60"/>
<line x1="241.30" y1="734.00" x2="241.30" y2="738.60"/>
</g>
<rect x="84.80" y="650.84" width="12.40" height="83.16" fill="#fff" stroke="#000" stroke-width="1.5"/>
<rect x="101.50" y="692.42" width="12.40" height="41.58" fill="#fff" stroke="#000" stroke-width="1.5"/>
<rect x="118.20" y="720.14" width="12.40" height="13.86" fill="#fff" stroke="#000" stroke-width="1.5"/>
<rect x="151.60" y="720.14" width="12.40" height="13.86" fill="#fff" stroke="#000" stroke-width="1.5"/>
<text x="78.00" y="737.10" font-size="8.5" fill="#222" text-anchor="end" >0</text>
<text x="78.00" y="709.38" font-size="8.5" fill="#222" text-anchor="end" >2</text>
<text x="78.00" y="681.66" font-size="8.5" fill="#222" text-anchor="end" >4</text>
<text x="78.00" y="653.94" font-size="8.5" fill="#222" text-anchor="end" >6</text>
<text x="78.00" y="626.22" font-size="8.5" fill="#222" text-anchor="end" >8</text>
<text transform="translate(93.20,744.00) rotate(-45)" font-size="8.5" fill="#222" text-anchor="end" >0</text>
<text transform="translate(109.90,744.00) rotate(-45)" font-size="8.5" fill="#222" text-anchor="end" >5</text>
<text transform="translate(126.60,744.00) rotate(-45)" font-size="8.5" fill="#222" text-anchor="end" >10</text>
<text transform="translate(143.30,744.00) rotate(-45)" font-size="8.5" fill="#222" text-anchor="end" >15</text>
<text transform="translate(160.00,744.00) rotate(-45)" font-size="8.5" fill="#222" text-anchor="end" >20</text>
<text transform="translate(176.70,744.00) rotate(-45)" font-size="8.5" fill="#222" text-anchor="end" >25</text>
<text transform="translate(193.40,744.00) rotate(-45)" font-size="8.5" fill="#222" text-anchor="end" >30</text>
<text transform="translate(210.10,744.00) rotate(-45)" font-size="8.5" fill="#222" text-anchor="end" >35</text>
<text transform="translate(226.80,744.00) rotate(-45)" font-size="8.5" fill="#222" text-anchor="end" >40</text>
<text transform="translate(243.50,744.00) rotate(-45)" font-size="8.5" fill="#222" text-anchor="end" >45</text>
<g stroke="#000" stroke-width="1.6" fill="none">
<line x1="82.40" y1="748.20" x2="82.40" y2="859.40"/>
<line x1="81.60" y1="859.40" x2="249.00" y2="859.40"/>
<line x1="78.20" y1="859.40" x2="82.40" y2="859.40"/>
<line x1="78.20" y1="831.60" x2="82.40" y2="831.60"/>
<line x1="78.20" y1="803.80" x2="82.40" y2="803.80"/>
<line x1="78.20" y1="776.00" x2="82.40" y2="776.00"/>
<line x1="78.20" y1="748.20" x2="82.40" y2="748.20"/>
<line x1="91.00" y1="859.40" x2="91.00" y2="864.00"/>
<line x1="107.70" y1="859.40" x2="107.70" y2="864.00"/>
<line x1="124.40" y1="859.40" x2="124.40" y2="864.00"/>
<line x1="141.10" y1="859.40" x2="141.10" y2="864.00"/>
<line x1="157.80" y1="859.40" x2="157.80" y2="864.00"/>
<line x1="174.50" y1="859.40" x2="174.50" y2="864.00"/>
<line x1="191.20" y1="859.40" x2="191.20" y2="864.00"/>
<line x1="207.90" y1="859.40" x2="207.90" y2="864.00"/>
<line x1="224.60" y1="859.40" x2="224.60" y2="864.00"/>
<line x1="241.30" y1="859.40" x2="241.30" y2="864.00"/>
</g>
<rect x="84.80" y="776.00" width="12.40" height="83.40" fill="#333" stroke="#000" stroke-width="1.5"/>
<rect x="101.50" y="762.10" width="12.40" height="97.30" fill="#333" stroke="#000" stroke-width="1.5"/>
<rect x="118.20" y="845.50" width="12.40" height="13.90" fill="#333" stroke="#000" stroke-width="1.5"/>
<rect x="134.90" y="817.70" width="12.40" height="41.70" fill="#333" stroke="#000" stroke-width="1.5"/>
<rect x="151.60" y="845.50" width="12.40" height="13.90" fill="#333" stroke="#000" stroke-width="1.5"/>
<rect x="168.30" y="831.60" width="12.40" height="27.80" fill="#333" stroke="#000" stroke-width="1.5"/>
<rect x="218.40" y="845.50" width="12.40" height="13.90" fill="#333" stroke="#000" stroke-width="1.5"/>
<text x="77.90" y="862.50" font-size="8.5" fill="#222" text-anchor="end" >0</text>
<text x="77.90" y="834.70" font-size="8.5" fill="#222" text-anchor="end" >2</text>
<text x="77.90" y="806.90" font-size="8.5" fill="#222" text-anchor="end" >4</text>
<text x="77.90" y="779.10" font-size="8.5" fill="#222" text-anchor="end" >6</text>
<text x="77.90" y="751.30" font-size="8.5" fill="#222" text-anchor="end" >8</text>
<text transform="translate(93.20,869.40) rotate(-45)" font-size="8.5" fill="#222" text-anchor="end" >0</text>
<text transform="translate(109.90,869.40) rotate(-45)" font-size="8.5" fill="#222" text-anchor="end" >5</text>
<text transform="translate(126.60,869.40) rotate(-45)" font-size="8.5" fill="#222" text-anchor="end" >10</text>
<text transform="translate(143.30,869.40) rotate(-45)" font-size="8.5" fill="#222" text-anchor="end" >15</text>
<text transform="translate(160.00,869.40) rotate(-45)" font-size="8.5" fill="#222" text-anchor="end" >20</text>
<text transform="translate(176.70,869.40) rotate(-45)" font-size="8.5" fill="#222" text-anchor="end" >25</text>
<text transform="translate(193.40,869.40) rotate(-45)" font-size="8.5" fill="#222" text-anchor="end" >30</text>
<text transform="translate(210.10,869.40) rotate(-45)" font-size="8.5" fill="#222" text-anchor="end" >35</text>
<text transform="translate(226.80,869.40) rotate(-45)" font-size="8.5" fill="#222" text-anchor="end" >40</text>
<text transform="translate(243.50,869.40) rotate(-45)" font-size="8.5" fill="#222" text-anchor="end" >45</text>
<g stroke="#000" stroke-width="1.6" fill="none">
<line x1="279.20" y1="621.28" x2="279.20" y2="734.00"/>
<line x1="278.40" y1="734.00" x2="441.50" y2="734.00"/>
<line x1="275.00" y1="734.00" x2="279.20" y2="734.00"/>
<line x1="275.00" y1="705.82" x2="279.20" y2="705.82"/>
<line x1="275.00" y1="677.64" x2="279.20" y2="677.64"/>
<line x1="275.00" y1="649.46" x2="279.20" y2="649.46"/>
<line x1="275.00" y1="621.28" x2="279.20" y2="621.28"/>
<line x1="288.00" y1="734.00" x2="288.00" y2="738.60"/>
<line x1="306.10" y1="734.00" x2="306.10" y2="738.60"/>
<line x1="324.20" y1="734.00" x2="324.20" y2="738.60"/>
<line x1="342.30" y1="734.00" x2="342.30" y2="738.60"/>
<line x1="360.40" y1="734.00" x2="360.40" y2="738.60"/>
<line x1="378.50" y1="734.00" x2="378.50" y2="738.60"/>
<line x1="396.60" y1="734.00" x2="396.60" y2="738.60"/>
<line x1="414.70" y1="734.00" x2="414.70" y2="738.60"/>
<line x1="432.80" y1="734.00" x2="432.80" y2="738.60"/>
</g>
<rect x="299.90" y="719.91" width="12.40" height="14.09" fill="#fff" stroke="#000" stroke-width="1.5"/>
<rect x="318.00" y="719.91" width="12.40" height="14.09" fill="#fff" stroke="#000" stroke-width="1.5"/>
<rect x="336.10" y="719.91" width="12.40" height="14.09" fill="#fff" stroke="#000" stroke-width="1.5"/>
<rect x="372.30" y="677.64" width="12.40" height="56.36" fill="#fff" stroke="#000" stroke-width="1.5"/>
<rect x="390.40" y="691.73" width="12.40" height="42.27" fill="#fff" stroke="#000" stroke-width="1.5"/>
<rect x="408.50" y="719.91" width="12.40" height="14.09" fill="#fff" stroke="#000" stroke-width="1.5"/>
<text x="274.70" y="737.10" font-size="8.5" fill="#222" text-anchor="end" >0</text>
<text x="274.70" y="708.92" font-size="8.5" fill="#222" text-anchor="end" >2</text>
<text x="274.70" y="680.74" font-size="8.5" fill="#222" text-anchor="end" >4</text>
<text x="274.70" y="652.56" font-size="8.5" fill="#222" text-anchor="end" >6</text>
<text x="274.70" y="624.38" font-size="8.5" fill="#222" text-anchor="end" >8</text>
<text transform="translate(290.20,744.00) rotate(-45)" font-size="8.5" fill="#222" text-anchor="end" >10</text>
<text transform="translate(308.30,744.00) rotate(-45)" font-size="8.5" fill="#222" text-anchor="end" >20</text>
<text transform="translate(326.40,744.00) rotate(-45)" font-size="8.5" fill="#222" text-anchor="end" >30</text>
<text transform="translate(344.50,744.00) rotate(-45)" font-size="8.5" fill="#222" text-anchor="end" >40</text>
<text transform="translate(362.60,744.00) rotate(-45)" font-size="8.5" fill="#222" text-anchor="end" >50</text>
<text transform="translate(380.70,744.00) rotate(-45)" font-size="8.5" fill="#222" text-anchor="end" >60</text>
<text transform="translate(398.80,744.00) rotate(-45)" font-size="8.5" fill="#222" text-anchor="end" >70</text>
<text transform="translate(416.90,744.00) rotate(-45)" font-size="8.5" fill="#222" text-anchor="end" >80</text>
<text transform="translate(435.00,744.00) rotate(-45)" font-size="8.5" fill="#222" text-anchor="end" >90</text>
<g stroke="#000" stroke-width="1.6" fill="none">
<line x1="279.40" y1="747.00" x2="279.40" y2="859.00"/>
<line x1="278.60" y1="859.00" x2="441.50" y2="859.00"/>
<line x1="275.20" y1="859.00" x2="279.40" y2="859.00"/>
<line x1="275.20" y1="831.00" x2="279.40" y2="831.00"/>
<line x1="275.20" y1="803.00" x2="279.40" y2="803.00"/>
<line x1="275.20" y1="775.00" x2="279.40" y2="775.00"/>
<line x1="275.20" y1="747.00" x2="279.40" y2="747.00"/>
<line x1="288.00" y1="859.00" x2="288.00" y2="863.60"/>
<line x1="306.10" y1="859.00" x2="306.10" y2="863.60"/>
<line x1="324.20" y1="859.00" x2="324.20" y2="863.60"/>
<line x1="342.30" y1="859.00" x2="342.30" y2="863.60"/>
<line x1="360.40" y1="859.00" x2="360.40" y2="863.60"/>
<line x1="378.50" y1="859.00" x2="378.50" y2="863.60"/>
<line x1="396.60" y1="859.00" x2="396.60" y2="863.60"/>
<line x1="414.70" y1="859.00" x2="414.70" y2="863.60"/>
<line x1="432.80" y1="859.00" x2="432.80" y2="863.60"/>
</g>
<rect x="299.90" y="817.00" width="12.40" height="42.00" fill="#333" stroke="#000" stroke-width="1.5"/>
<rect x="318.00" y="831.00" width="12.40" height="28.00" fill="#333" stroke="#000" stroke-width="1.5"/>
<rect x="336.10" y="775.00" width="12.40" height="84.00" fill="#333" stroke="#000" stroke-width="1.5"/>
<rect x="354.20" y="803.00" width="12.40" height="56.00" fill="#333" stroke="#000" stroke-width="1.5"/>
<rect x="372.30" y="845.00" width="12.40" height="14.00" fill="#333" stroke="#000" stroke-width="1.5"/>
<rect x="390.40" y="831.00" width="12.40" height="28.00" fill="#333" stroke="#000" stroke-width="1.5"/>
<rect x="408.50" y="817.00" width="12.40" height="42.00" fill="#333" stroke="#000" stroke-width="1.5"/>
<text x="274.90" y="862.10" font-size="8.5" fill="#222" text-anchor="end" >0</text>
<text x="274.90" y="834.10" font-size="8.5" fill="#222" text-anchor="end" >2</text>
<text x="274.90" y="806.10" font-size="8.5" fill="#222" text-anchor="end" >4</text>
<text x="274.90" y="778.10" font-size="8.5" fill="#222" text-anchor="end" >6</text>
<text x="274.90" y="750.10" font-size="8.5" fill="#222" text-anchor="end" >8</text>
<text transform="translate(290.20,869.00) rotate(-45)" font-size="8.5" fill="#222" text-anchor="end" >10</text>
<text transform="translate(308.30,869.00) rotate(-45)" font-size="8.5" fill="#222" text-anchor="end" >20</text>
<text transform="translate(326.40,869.00) rotate(-45)" font-size="8.5" fill="#222" text-anchor="end" >30</text>
<text transform="translate(344.50,869.00) rotate(-45)" font-size="8.5" fill="#222" text-anchor="end" >40</text>
<text transform="translate(362.60,869.00) rotate(-45)" font-size="8.5" fill="#222" text-anchor="end" >50</text>
<text transform="translate(380.70,869.00) rotate(-45)" font-size="8.5" fill="#222" text-anchor="end" >60</text>
<text transform="translate(398.80,869.00) rotate(-45)" font-size="8.5" fill="#222" text-anchor="end" >70</text>
<text transform="translate(416.90,869.00) rotate(-45)" font-size="8.5" fill="#222" text-anchor="end" >80</text>
<text transform="translate(435.00,869.00) rotate(-45)" font-size="8.5" fill="#222" text-anchor="end" >90</text>
<g stroke="#000" stroke-width="1.6" fill="none">
<line x1="476.20" y1="621.28" x2="476.20" y2="733.60"/>
<line x1="475.40" y1="733.60" x2="644.60" y2="733.60"/>
<line x1="472.00" y1="733.60" x2="476.20" y2="733.60"/>
<line x1="472.00" y1="705.52" x2="476.20" y2="705.52"/>
<line x1="472.00" y1="677.44" x2="476.20" y2="677.44"/>
<line x1="472.00" y1="649.36" x2="476.20" y2="649.36"/>
<line x1="472.00" y1="621.28" x2="476.20" y2="621.28"/>
<line x1="481.30" y1="733.60" x2="481.30" y2="738.20"/>
<line x1="490.64" y1="733.60" x2="490.64" y2="738.20"/>
<line x1="499.97" y1="733.60" x2="499.97" y2="738.20"/>
<line x1="509.31" y1="733.60" x2="509.31" y2="738.20"/>
<line x1="518.64" y1="733.60" x2="518.64" y2="738.20"/>
<line x1="527.98" y1="733.60" x2="527.98" y2="738.20"/>
<line x1="537.31" y1="733.60" x2="537.31" y2="738.20"/>
<line x1="546.65" y1="733.60" x2="546.65" y2="738.20"/>
<line x1="555.98" y1="733.60" x2="555.98" y2="738.20"/>
<line x1="565.32" y1="733.60" x2="565.32" y2="738.20"/>
<line x1="574.65" y1="733.60" x2="574.65" y2="738.20"/>
<line x1="583.99" y1="733.60" x2="583.99" y2="738.20"/>
<line x1="593.32" y1="733.60" x2="593.32" y2="738.20"/>
<line x1="602.66" y1="733.60" x2="602.66" y2="738.20"/>
<line x1="611.99" y1="733.60" x2="611.99" y2="738.20"/>
<line x1="621.33" y1="733.60" x2="621.33" y2="738.20"/>
<line x1="630.66" y1="733.60" x2="630.66" y2="738.20"/>
<line x1="640.00" y1="733.60" x2="640.00" y2="738.20"/>
</g>
<rect x="477.90" y="663.40" width="6.80" height="70.20" fill="#fff" stroke="#000" stroke-width="1.5"/>
<rect x="487.24" y="719.56" width="6.80" height="14.04" fill="#fff" stroke="#000" stroke-width="1.5"/>
<rect x="496.57" y="677.44" width="6.80" height="56.16" fill="#fff" stroke="#000" stroke-width="1.5"/>
<text x="471.70" y="736.70" font-size="8.5" fill="#222" text-anchor="end" >0</text>
<text x="471.70" y="708.62" font-size="8.5" fill="#222" text-anchor="end" >2</text>
<text x="471.70" y="680.54" font-size="8.5" fill="#222" text-anchor="end" >4</text>
<text x="471.70" y="652.46" font-size="8.5" fill="#222" text-anchor="end" >6</text>
<text x="471.70" y="624.38" font-size="8.5" fill="#222" text-anchor="end" >8</text>
<text transform="translate(483.50,743.60) rotate(-45)" font-size="8" fill="#222" text-anchor="end" >0</text>
<text transform="translate(492.84,743.60) rotate(-45)" font-size="8" fill="#222" text-anchor="end" >2</text>
<text transform="translate(502.17,743.60) rotate(-45)" font-size="8" fill="#222" text-anchor="end" >4</text>
<text transform="translate(511.51,743.60) rotate(-45)" font-size="8" fill="#222" text-anchor="end" >6</text>
<text transform="translate(520.84,743.60) rotate(-45)" font-size="8" fill="#222" text-anchor="end" >8</text>
<text transform="translate(530.18,743.60) rotate(-45)" font-size="8" fill="#222" text-anchor="end" >10</text>
<text transform="translate(539.51,743.60) rotate(-45)" font-size="8" fill="#222" text-anchor="end" >12</text>
<text transform="translate(548.85,743.60) rotate(-45)" font-size="8" fill="#222" text-anchor="end" >14</text>
<text transform="translate(558.18,743.60) rotate(-45)" font-size="8" fill="#222" text-anchor="end" >16</text>
<text transform="translate(567.52,743.60) rotate(-45)" font-size="8" fill="#222" text-anchor="end" >18</text>
<text transform="translate(576.85,743.60) rotate(-45)" font-size="8" fill="#222" text-anchor="end" >20</text>
<text transform="translate(586.19,743.60) rotate(-45)" font-size="8" fill="#222" text-anchor="end" >22</text>
<text transform="translate(595.52,743.60) rotate(-45)" font-size="8" fill="#222" text-anchor="end" >24</text>
<text transform="translate(604.86,743.60) rotate(-45)" font-size="8" fill="#222" text-anchor="end" >26</text>
<text transform="translate(614.19,743.60) rotate(-45)" font-size="8" fill="#222" text-anchor="end" >28</text>
<text transform="translate(623.53,743.60) rotate(-45)" font-size="8" fill="#222" text-anchor="end" >30</text>
<text transform="translate(632.86,743.60) rotate(-45)" font-size="8" fill="#222" text-anchor="end" >32</text>
<text transform="translate(642.20,743.60) rotate(-45)" font-size="8" fill="#222" text-anchor="end" >34</text>
<g stroke="#000" stroke-width="1.6" fill="none">
<line x1="476.40" y1="746.60" x2="476.40" y2="858.60"/>
<line x1="475.60" y1="858.60" x2="644.60" y2="858.60"/>
<line x1="472.20" y1="858.60" x2="476.40" y2="858.60"/>
<line x1="472.20" y1="830.60" x2="476.40" y2="830.60"/>
<line x1="472.20" y1="802.60" x2="476.40" y2="802.60"/>
<line x1="472.20" y1="774.60" x2="476.40" y2="774.60"/>
<line x1="472.20" y1="746.60" x2="476.40" y2="746.60"/>
<line x1="481.30" y1="858.60" x2="481.30" y2="863.20"/>
<line x1="490.64" y1="858.60" x2="490.64" y2="863.20"/>
<line x1="499.97" y1="858.60" x2="499.97" y2="863.20"/>
<line x1="509.31" y1="858.60" x2="509.31" y2="863.20"/>
<line x1="518.64" y1="858.60" x2="518.64" y2="863.20"/>
<line x1="527.98" y1="858.60" x2="527.98" y2="863.20"/>
<line x1="537.31" y1="858.60" x2="537.31" y2="863.20"/>
<line x1="546.65" y1="858.60" x2="546.65" y2="863.20"/>
<line x1="555.98" y1="858.60" x2="555.98" y2="863.20"/>
<line x1="565.32" y1="858.60" x2="565.32" y2="863.20"/>
<line x1="574.65" y1="858.60" x2="574.65" y2="863.20"/>
<line x1="583.99" y1="858.60" x2="583.99" y2="863.20"/>
<line x1="593.32" y1="858.60" x2="593.32" y2="863.20"/>
<line x1="602.66" y1="858.60" x2="602.66" y2="863.20"/>
<line x1="611.99" y1="858.60" x2="611.99" y2="863.20"/>
<line x1="621.33" y1="858.60" x2="621.33" y2="863.20"/>
<line x1="630.66" y1="858.60" x2="630.66" y2="863.20"/>
<line x1="640.00" y1="858.60" x2="640.00" y2="863.20"/>
</g>
<rect x="477.80" y="830.60" width="7.00" height="28.00" fill="#333" stroke="#000" stroke-width="1.5"/>
<rect x="487.14" y="746.60" width="7.00" height="112.00" fill="#333" stroke="#000" stroke-width="1.5"/>
<rect x="496.47" y="816.60" width="7.00" height="42.00" fill="#333" stroke="#000" stroke-width="1.5"/>
<rect x="505.81" y="844.60" width="7.00" height="14.00" fill="#333" stroke="#000" stroke-width="1.5"/>
<rect x="524.48" y="844.60" width="7.00" height="14.00" fill="#333" stroke="#000" stroke-width="1.5"/>
<rect x="533.81" y="844.60" width="7.00" height="14.00" fill="#333" stroke="#000" stroke-width="1.5"/>
<rect x="543.15" y="830.60" width="7.00" height="28.00" fill="#333" stroke="#000" stroke-width="1.5"/>
<rect x="552.48" y="844.60" width="7.00" height="14.00" fill="#333" stroke="#000" stroke-width="1.5"/>
<rect x="580.49" y="844.60" width="7.00" height="14.00" fill="#333" stroke="#000" stroke-width="1.5"/>
<rect x="636.50" y="844.60" width="7.00" height="14.00" fill="#333" stroke="#000" stroke-width="1.5"/>
<text x="471.90" y="861.70" font-size="8.5" fill="#222" text-anchor="end" >0</text>
<text x="471.90" y="833.70" font-size="8.5" fill="#222" text-anchor="end" >2</text>
<text x="471.90" y="805.70" font-size="8.5" fill="#222" text-anchor="end" >4</text>
<text x="471.90" y="777.70" font-size="8.5" fill="#222" text-anchor="end" >6</text>
<text x="471.90" y="749.70" font-size="8.5" fill="#222" text-anchor="end" >8</text>
<text transform="translate(483.50,868.60) rotate(-45)" font-size="8" fill="#222" text-anchor="end" >0</text>
<text transform="translate(492.84,868.60) rotate(-45)" font-size="8" fill="#222" text-anchor="end" >2</text>
<text transform="translate(502.17,868.60) rotate(-45)" font-size="8" fill="#222" text-anchor="end" >4</text>
<text transform="translate(511.51,868.60) rotate(-45)" font-size="8" fill="#222" text-anchor="end" >6</text>
<text transform="translate(520.84,868.60) rotate(-45)" font-size="8" fill="#222" text-anchor="end" >8</text>
<text transform="translate(530.18,868.60) rotate(-45)" font-size="8" fill="#222" text-anchor="end" >10</text>
<text transform="translate(539.51,868.60) rotate(-45)" font-size="8" fill="#222" text-anchor="end" >12</text>
<text transform="translate(548.85,868.60) rotate(-45)" font-size="8" fill="#222" text-anchor="end" >14</text>
<text transform="translate(558.18,868.60) rotate(-45)" font-size="8" fill="#222" text-anchor="end" >16</text>
<text transform="translate(567.52,868.60) rotate(-45)" font-size="8" fill="#222" text-anchor="end" >18</text>
<text transform="translate(576.85,868.60) rotate(-45)" font-size="8" fill="#222" text-anchor="end" >20</text>
<text transform="translate(586.19,868.60) rotate(-45)" font-size="8" fill="#222" text-anchor="end" >22</text>
<text transform="translate(595.52,868.60) rotate(-45)" font-size="8" fill="#222" text-anchor="end" >24</text>
<text transform="translate(604.86,868.60) rotate(-45)" font-size="8" fill="#222" text-anchor="end" >26</text>
<text transform="translate(614.19,868.60) rotate(-45)" font-size="8" fill="#222" text-anchor="end" >28</text>
<text transform="translate(623.53,868.60) rotate(-45)" font-size="8" fill="#222" text-anchor="end" >30</text>
<text transform="translate(632.86,868.60) rotate(-45)" font-size="8" fill="#222" text-anchor="end" >32</text>
<text transform="translate(642.20,868.60) rotate(-45)" font-size="8" fill="#222" text-anchor="end" >34</text>
<text x="49.30" y="328.60" font-size="25.5" fill="#000" text-anchor="start" stroke="#000" stroke-width="0.35">B</text>
<text x="245.60" y="328.00" font-size="25.5" fill="#000" text-anchor="start" stroke="#000" stroke-width="0.35">C</text>
<text x="447.20" y="328.20" font-size="25.5" fill="#000" text-anchor="start" stroke="#000" stroke-width="0.35">D</text>
<text x="51.40" y="635.60" font-size="25.5" fill="#000" text-anchor="start" stroke="#000" stroke-width="0.35">E</text>
<text x="249.70" y="635.40" font-size="25.5" fill="#000" text-anchor="start" stroke="#000" stroke-width="0.35">F</text>
<text x="446.10" y="636.60" font-size="25.5" fill="#000" text-anchor="start" stroke="#000" stroke-width="0.35">G</text>
<text transform="translate(39.20,381.30) rotate(-90)" font-size="24.5" fill="#000" text-anchor="middle" stroke="#000" stroke-width="0.12">+TRAP</text>
<text transform="translate(39.00,503.40) rotate(-90)" font-size="24.5" fill="#000" text-anchor="middle" stroke="#000" stroke-width="0.12">-TRAP</text>
<text transform="translate(37.10,681.60) rotate(-90)" font-size="24.5" fill="#000" text-anchor="middle" stroke="#000" stroke-width="0.12">+TRAP</text>
<text transform="translate(37.10,808.80) rotate(-90)" font-size="24.5" fill="#000" text-anchor="middle" stroke="#000" stroke-width="0.12">-TRAP</text>
<text transform="translate(58.50,369.30) rotate(-90)" font-size="9.2" fill="#222" text-anchor="middle" >number</text>
<text transform="translate(58.50,497.70) rotate(-90)" font-size="9.2" fill="#222" text-anchor="middle" >number</text>
<text transform="translate(253.50,373.00) rotate(-90)" font-size="9.2" fill="#222" text-anchor="middle" >number</text>
<text transform="translate(253.50,497.40) rotate(-90)" font-size="9.2" fill="#222" text-anchor="middle" >number</text>
<text transform="translate(457.50,371.30) rotate(-90)" font-size="9.2" fill="#222" text-anchor="middle" >number</text>
<text transform="translate(457.50,497.40) rotate(-90)" font-size="9.2" fill="#222" text-anchor="middle" >number</text>
<text transform="translate(60.30,678.00) rotate(-90)" font-size="9.2" fill="#222" text-anchor="middle" >number</text>
<text transform="translate(60.30,802.30) rotate(-90)" font-size="9.2" fill="#222" text-anchor="middle" >number</text>
<text transform="translate(257.50,677.20) rotate(-90)" font-size="9.2" fill="#222" text-anchor="middle" >number</text>
<text transform="translate(257.50,802.30) rotate(-90)" font-size="9.2" fill="#222" text-anchor="middle" >number</text>
<text transform="translate(454.00,678.00) rotate(-90)" font-size="9.2" fill="#222" text-anchor="middle" >number</text>
<text transform="translate(454.00,802.30) rotate(-90)" font-size="9.2" fill="#222" text-anchor="middle" >number</text>
<text x="148.00" y="324.00" font-size="12.3" fill="#111" text-anchor="start" xml:space="preserve">TRAP+  29.7±3.9</text>
<text x="148.00" y="338.00" font-size="12.3" fill="#111" text-anchor="start" xml:space="preserve">TRAP-  49.0±4.9</text>
<text x="148.00" y="352.00" font-size="12.3" fill="#111" text-anchor="start" xml:space="preserve">P&lt;0.01</text>
<text x="342.50" y="324.00" font-size="12.3" fill="#111" text-anchor="start" xml:space="preserve">TRAP+  1.03±0.07</text>
<text x="342.50" y="338.00" font-size="12.3" fill="#111" text-anchor="start" xml:space="preserve">TRAP-  0.97±0.07</text>
<text x="342.50" y="352.00" font-size="12.3" fill="#111" text-anchor="start" xml:space="preserve">P=N.S.</text>
<text x="562.40" y="324.00" font-size="12.3" fill="#111" text-anchor="start" xml:space="preserve">TRAP+  26.2±2.8</text>
<text x="562.40" y="338.00" font-size="12.3" fill="#111" text-anchor="start" xml:space="preserve">TRAP-  24.7±2.3</text>
<text x="562.40" y="352.00" font-size="12.3" fill="#111" text-anchor="start" xml:space="preserve">P=N.S.</text>
<text x="149.00" y="633.00" font-size="12.3" fill="#111" text-anchor="start" xml:space="preserve">TRAP+  4.1±1.7</text>
<text x="149.00" y="647.00" font-size="12.3" fill="#111" text-anchor="start" xml:space="preserve">TRAP-  9.9±2.3</text>
<text x="149.00" y="661.00" font-size="12.3" fill="#111" text-anchor="start" xml:space="preserve">P&lt;0.05</text>
<text x="343.60" y="633.00" font-size="12.3" fill="#111" text-anchor="start" xml:space="preserve">TRAP+  56.6±5.2</text>
<text x="343.60" y="647.00" font-size="12.3" fill="#111" text-anchor="start" xml:space="preserve">TRAP-  47.5±4.1</text>
<text x="343.60" y="661.00" font-size="12.3" fill="#111" text-anchor="start" xml:space="preserve">P=N.S.</text>
<text x="546.40" y="633.00" font-size="12.3" fill="#111" text-anchor="start" xml:space="preserve">TRAP+  1.9±0.5</text>
<text x="546.40" y="647.00" font-size="12.3" fill="#111" text-anchor="start" xml:space="preserve">TRAP-  7.2±1.9</text>
<text x="546.40" y="661.00" font-size="12.3" fill="#111" text-anchor="start" xml:space="preserve">P&lt;0.05</text>
<text x="161.20" y="588.00" font-size="14" fill="#222" text-anchor="middle" stroke="#222" stroke-width="0.1">Age (years)</text>
<text x="361.00" y="585.50" font-size="10" fill="#222" text-anchor="middle" stroke="#222" stroke-width="0.15">RTL</text>
<text x="559.50" y="584.50" font-size="9.25" fill="#222" text-anchor="middle" stroke="#222" stroke-width="0.15">Population doublings (PD)</text>
<text x="163.50" y="894.20" font-size="15.4" fill="#222" text-anchor="middle" stroke="#222" stroke-width="0.1" textLength="86.5" lengthAdjust="spacingAndGlyphs">%LEP of total</text>
<text x="359.50" y="894.20" font-size="15.4" fill="#222" text-anchor="middle" stroke="#222" stroke-width="0.1" textLength="88.5" lengthAdjust="spacingAndGlyphs">%MEP of total</text>
<text x="559.30" y="894.20" font-size="15.4" fill="#222" text-anchor="middle" stroke="#222" stroke-width="0.1" textLength="89.5" lengthAdjust="spacingAndGlyphs">%cKIT of total</text>
</svg>
</body></html>
